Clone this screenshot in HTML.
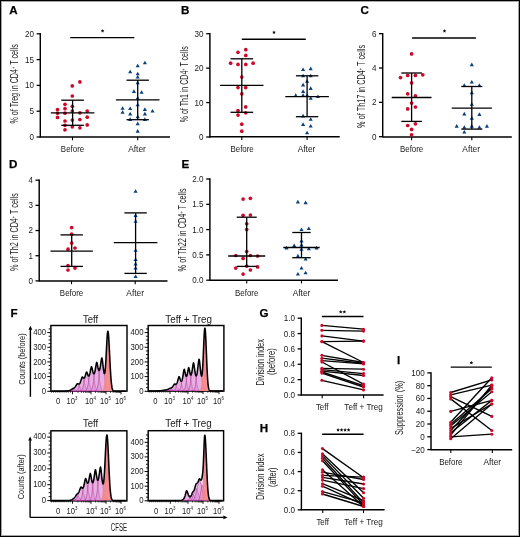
<!DOCTYPE html>
<html><head><meta charset="utf-8"><style>
html,body{margin:0;padding:0;background:#fff;}
#fig{position:relative;width:520px;height:537px;overflow:hidden;background:#fff;}
#fig svg{position:absolute;left:0;top:0;will-change:transform;}
text{font-family:"Liberation Sans", sans-serif;}
</style></head><body><div id="fig">
<svg width="520" height="537" viewBox="0 0 520 537">
<rect x="0.5" y="0.5" width="519" height="536" fill="#fff" stroke="#000" stroke-width="1"/>
<rect x="1.5" y="1.5" width="517" height="534" fill="none" stroke="#000" stroke-opacity="0.35" stroke-width="1"/>
<text font-size="11.6" text-anchor="start" font-weight="bold" fill="#000" transform="translate(9.3 14.05)" stroke="#000" stroke-width="0.25">A</text>
<line x1="40.3" y1="33.1" x2="40.3" y2="137.7" stroke="#000" stroke-width="1.45" stroke-linecap="butt"/>
<line x1="36.6" y1="137" x2="40.3" y2="137" stroke="#000" stroke-width="1.3" stroke-linecap="butt"/>
<text font-size="8.8" text-anchor="end" font-weight="normal" fill="#1a1a1a" transform="translate(34 139.95) scale(0.92 1)">0</text>
<line x1="36.6" y1="111.2" x2="40.3" y2="111.2" stroke="#000" stroke-width="1.3" stroke-linecap="butt"/>
<text font-size="8.8" text-anchor="end" font-weight="normal" fill="#1a1a1a" transform="translate(34 114.15) scale(0.92 1)">5</text>
<line x1="36.6" y1="85.4" x2="40.3" y2="85.4" stroke="#000" stroke-width="1.3" stroke-linecap="butt"/>
<text font-size="8.8" text-anchor="end" font-weight="normal" fill="#1a1a1a" transform="translate(34 88.35) scale(0.92 1)">10</text>
<line x1="36.6" y1="59.6" x2="40.3" y2="59.6" stroke="#000" stroke-width="1.3" stroke-linecap="butt"/>
<text font-size="8.8" text-anchor="end" font-weight="normal" fill="#1a1a1a" transform="translate(34 62.55) scale(0.92 1)">15</text>
<line x1="36.6" y1="33.8" x2="40.3" y2="33.8" stroke="#000" stroke-width="1.3" stroke-linecap="butt"/>
<text font-size="8.8" text-anchor="end" font-weight="normal" fill="#1a1a1a" transform="translate(34 36.75) scale(0.92 1)">20</text>
<line x1="40.3" y1="137" x2="170" y2="137" stroke="#000" stroke-width="1.45" stroke-linecap="butt"/>
<line x1="72.5" y1="137" x2="72.5" y2="140.3" stroke="#000" stroke-width="1.1" stroke-linecap="butt"/>
<text font-size="9" text-anchor="middle" font-weight="normal" fill="#1a1a1a" transform="translate(72.5 151.9) scale(0.88 1)">Before</text>
<line x1="137.7" y1="137" x2="137.7" y2="140.3" stroke="#000" stroke-width="1.1" stroke-linecap="butt"/>
<text font-size="9" text-anchor="middle" font-weight="normal" fill="#1a1a1a" transform="translate(137 151.9) scale(0.93 1)">After</text>
<text font-size="10" text-anchor="middle" font-weight="normal" fill="#1a1a1a" textLength="79.4" lengthAdjust="spacingAndGlyphs" transform="translate(17.9 83.9) rotate(-90)">% of Treg in CD4<tspan font-size="5.5" dy="-3">+</tspan><tspan dy="3"> T cells</tspan></text>
<circle cx="79.9" cy="81.9" r="1.85" fill="#cc0a2a"/>
<circle cx="72.3" cy="85.9" r="1.85" fill="#cc0a2a"/>
<circle cx="72.3" cy="96" r="1.85" fill="#cc0a2a"/>
<circle cx="65" cy="104.3" r="1.85" fill="#cc0a2a"/>
<circle cx="72.3" cy="106.3" r="1.85" fill="#cc0a2a"/>
<circle cx="57.5" cy="109.5" r="1.85" fill="#cc0a2a"/>
<circle cx="65" cy="108.7" r="1.85" fill="#cc0a2a"/>
<circle cx="72.3" cy="111.1" r="1.85" fill="#cc0a2a"/>
<circle cx="79.9" cy="112.8" r="1.85" fill="#cc0a2a"/>
<circle cx="87.2" cy="111.1" r="1.85" fill="#cc0a2a"/>
<circle cx="57.5" cy="113.2" r="1.85" fill="#cc0a2a"/>
<circle cx="65" cy="113.2" r="1.85" fill="#cc0a2a"/>
<circle cx="57.5" cy="117.4" r="1.85" fill="#cc0a2a"/>
<circle cx="87.2" cy="117.2" r="1.85" fill="#cc0a2a"/>
<circle cx="79.9" cy="119.5" r="1.85" fill="#cc0a2a"/>
<circle cx="72.3" cy="120.1" r="1.85" fill="#cc0a2a"/>
<circle cx="65" cy="121" r="1.85" fill="#cc0a2a"/>
<circle cx="87.2" cy="124.9" r="1.85" fill="#cc0a2a"/>
<circle cx="65" cy="125.3" r="1.85" fill="#cc0a2a"/>
<circle cx="72.3" cy="126.8" r="1.85" fill="#cc0a2a"/>
<circle cx="79.9" cy="127.8" r="1.85" fill="#cc0a2a"/>
<circle cx="65" cy="129.8" r="1.85" fill="#cc0a2a"/>
<path d="M144.9 60.73L146.97 64.34L142.83 64.34Z" fill="#0b407f"/>
<path d="M137.7 63.73L139.77 67.34L135.62 67.34Z" fill="#0b407f"/>
<path d="M130.2 69.63L132.27 73.24L128.12 73.24Z" fill="#0b407f"/>
<path d="M137.7 71.63L139.77 75.24L135.62 75.24Z" fill="#0b407f"/>
<path d="M137.7 74.93L139.77 78.54L135.62 78.54Z" fill="#0b407f"/>
<path d="M137.7 80.53L139.77 84.14L135.62 84.14Z" fill="#0b407f"/>
<path d="M133.9 89.33L135.97 92.94L131.83 92.94Z" fill="#0b407f"/>
<path d="M141.6 90.23L143.67 93.84L139.53 93.84Z" fill="#0b407f"/>
<path d="M137.7 95.93L139.77 99.54L135.62 99.54Z" fill="#0b407f"/>
<path d="M137.7 102.73L139.77 106.34L135.62 106.34Z" fill="#0b407f"/>
<path d="M122.6 106.13L124.67 109.74L120.52 109.74Z" fill="#0b407f"/>
<path d="M130.2 106.43L132.27 110.04L128.12 110.04Z" fill="#0b407f"/>
<path d="M122.6 110.13L124.67 113.74L120.52 113.74Z" fill="#0b407f"/>
<path d="M130.2 111.83L132.27 115.44L128.12 115.44Z" fill="#0b407f"/>
<path d="M144.9 107.33L146.97 110.94L142.83 110.94Z" fill="#0b407f"/>
<path d="M152.5 108.93L154.57 112.54L150.43 112.54Z" fill="#0b407f"/>
<path d="M144.9 111.83L146.97 115.44L142.83 115.44Z" fill="#0b407f"/>
<path d="M137.7 114.53L139.77 118.14L135.62 118.14Z" fill="#0b407f"/>
<path d="M130.2 117.33L132.27 120.94L128.12 120.94Z" fill="#0b407f"/>
<path d="M144.9 117.33L146.97 120.94L142.83 120.94Z" fill="#0b407f"/>
<path d="M137.7 121.53L139.77 125.14L135.62 125.14Z" fill="#0b407f"/>
<path d="M137.7 129.03L139.77 132.64L135.62 132.64Z" fill="#0b407f"/>
<line x1="72.6" y1="100.2" x2="72.6" y2="125.3" stroke="#000" stroke-width="1.3" stroke-linecap="butt"/>
<line x1="61.3" y1="100.2" x2="83.9" y2="100.2" stroke="#000" stroke-width="1.3" stroke-linecap="butt"/>
<line x1="61.3" y1="125.3" x2="83.9" y2="125.3" stroke="#000" stroke-width="1.3" stroke-linecap="butt"/>
<line x1="50.8" y1="112.9" x2="94.4" y2="112.9" stroke="#000" stroke-width="1.3" stroke-linecap="butt"/>
<line x1="137.7" y1="80.2" x2="137.7" y2="119.7" stroke="#000" stroke-width="1.3" stroke-linecap="butt"/>
<line x1="126.5" y1="80.2" x2="148.9" y2="80.2" stroke="#000" stroke-width="1.3" stroke-linecap="butt"/>
<line x1="126.5" y1="119.7" x2="148.9" y2="119.7" stroke="#000" stroke-width="1.3" stroke-linecap="butt"/>
<line x1="115.9" y1="99.9" x2="159.5" y2="99.9" stroke="#000" stroke-width="1.3" stroke-linecap="butt"/>
<line x1="70.2" y1="37.6" x2="134.3" y2="37.6" stroke="#000" stroke-width="1.45" stroke-linecap="butt"/>
<path d="M102.6 29L103.16 30.13L104.41 30.31L103.5 31.19L103.72 32.44L102.6 31.85L101.48 32.44L101.7 31.19L100.79 30.31L102.04 30.13Z" fill="#111"/>
<text font-size="11.6" text-anchor="start" font-weight="bold" fill="#000" transform="translate(181 14.05)" stroke="#000" stroke-width="0.25">B</text>
<line x1="209.9" y1="33.01" x2="209.9" y2="137.7" stroke="#000" stroke-width="1.45" stroke-linecap="butt"/>
<line x1="206.2" y1="137" x2="209.9" y2="137" stroke="#000" stroke-width="1.3" stroke-linecap="butt"/>
<text font-size="8.8" text-anchor="end" font-weight="normal" fill="#1a1a1a" transform="translate(203.6 139.95) scale(0.92 1)">0</text>
<line x1="206.2" y1="102.57" x2="209.9" y2="102.57" stroke="#000" stroke-width="1.3" stroke-linecap="butt"/>
<text font-size="8.8" text-anchor="end" font-weight="normal" fill="#1a1a1a" transform="translate(203.6 105.52) scale(0.92 1)">10</text>
<line x1="206.2" y1="68.14" x2="209.9" y2="68.14" stroke="#000" stroke-width="1.3" stroke-linecap="butt"/>
<text font-size="8.8" text-anchor="end" font-weight="normal" fill="#1a1a1a" transform="translate(203.6 71.09) scale(0.92 1)">20</text>
<line x1="206.2" y1="33.71" x2="209.9" y2="33.71" stroke="#000" stroke-width="1.3" stroke-linecap="butt"/>
<text font-size="8.8" text-anchor="end" font-weight="normal" fill="#1a1a1a" transform="translate(203.6 36.66) scale(0.92 1)">30</text>
<line x1="209.9" y1="136.8" x2="339.7" y2="136.8" stroke="#000" stroke-width="1.45" stroke-linecap="butt"/>
<line x1="241.8" y1="136.8" x2="241.8" y2="140.1" stroke="#000" stroke-width="1.1" stroke-linecap="butt"/>
<text font-size="9" text-anchor="middle" font-weight="normal" fill="#1a1a1a" transform="translate(242.1 151.9) scale(0.88 1)">Before</text>
<line x1="307.1" y1="136.8" x2="307.1" y2="140.1" stroke="#000" stroke-width="1.1" stroke-linecap="butt"/>
<text font-size="9" text-anchor="middle" font-weight="normal" fill="#1a1a1a" transform="translate(306.5 151.9) scale(0.93 1)">After</text>
<text font-size="10" text-anchor="middle" font-weight="normal" fill="#1a1a1a" textLength="76" lengthAdjust="spacingAndGlyphs" transform="translate(188 84.3) rotate(-90)">% of Th1 in CD4<tspan font-size="5.5" dy="-3">+</tspan><tspan dy="3"> T cells</tspan></text>
<circle cx="245.8" cy="49.7" r="1.85" fill="#cc0a2a"/>
<circle cx="238" cy="52.3" r="1.85" fill="#cc0a2a"/>
<circle cx="245.8" cy="55.4" r="1.85" fill="#cc0a2a"/>
<circle cx="230.6" cy="63.2" r="1.85" fill="#cc0a2a"/>
<circle cx="238" cy="64.4" r="1.85" fill="#cc0a2a"/>
<circle cx="245.8" cy="64.4" r="1.85" fill="#cc0a2a"/>
<circle cx="253.1" cy="63.2" r="1.85" fill="#cc0a2a"/>
<circle cx="241.8" cy="77.1" r="1.85" fill="#cc0a2a"/>
<circle cx="238" cy="87.6" r="1.85" fill="#cc0a2a"/>
<circle cx="245.7" cy="87.6" r="1.85" fill="#cc0a2a"/>
<circle cx="241.8" cy="93.8" r="1.85" fill="#cc0a2a"/>
<circle cx="245.7" cy="106.9" r="1.85" fill="#cc0a2a"/>
<circle cx="238" cy="110.5" r="1.85" fill="#cc0a2a"/>
<circle cx="245.7" cy="112.8" r="1.85" fill="#cc0a2a"/>
<circle cx="238" cy="115.1" r="1.85" fill="#cc0a2a"/>
<circle cx="241.8" cy="124.2" r="1.85" fill="#cc0a2a"/>
<circle cx="241.8" cy="131.2" r="1.85" fill="#cc0a2a"/>
<path d="M303.1 67.43L305.18 71.04L301.03 71.04Z" fill="#0b407f"/>
<path d="M310.7 66.53L312.77 70.14L308.62 70.14Z" fill="#0b407f"/>
<path d="M303.1 73.63L305.18 77.24L301.03 77.24Z" fill="#0b407f"/>
<path d="M310.7 73.63L312.77 77.24L308.62 77.24Z" fill="#0b407f"/>
<path d="M307.1 79.23L309.18 82.84L305.03 82.84Z" fill="#0b407f"/>
<path d="M303.1 82.83L305.18 86.44L301.03 86.44Z" fill="#0b407f"/>
<path d="M303.1 89.33L305.18 92.94L301.03 92.94Z" fill="#0b407f"/>
<path d="M310.7 86.33L312.77 89.94L308.62 89.94Z" fill="#0b407f"/>
<path d="M295.7 93.33L297.77 96.94L293.62 96.94Z" fill="#0b407f"/>
<path d="M303.1 93.13L305.18 96.74L301.03 96.74Z" fill="#0b407f"/>
<path d="M307.1 93.13L309.18 96.74L305.03 96.74Z" fill="#0b407f"/>
<path d="M310.7 96.03L312.77 99.64L308.62 99.64Z" fill="#0b407f"/>
<path d="M318 94.43L320.07 98.04L315.93 98.04Z" fill="#0b407f"/>
<path d="M303.1 113.83L305.18 117.44L301.03 117.44Z" fill="#0b407f"/>
<path d="M310.7 117.23L312.77 120.84L308.62 120.84Z" fill="#0b407f"/>
<path d="M303.1 122.33L305.18 125.94L301.03 125.94Z" fill="#0b407f"/>
<path d="M310.7 123.93L312.77 127.54L308.62 127.54Z" fill="#0b407f"/>
<path d="M307.1 130.63L309.18 134.24L305.03 134.24Z" fill="#0b407f"/>
<line x1="241.8" y1="58.8" x2="241.8" y2="112.3" stroke="#000" stroke-width="1.3" stroke-linecap="butt"/>
<line x1="230.5" y1="58.8" x2="253.1" y2="58.8" stroke="#000" stroke-width="1.3" stroke-linecap="butt"/>
<line x1="230.5" y1="112.3" x2="253.1" y2="112.3" stroke="#000" stroke-width="1.3" stroke-linecap="butt"/>
<line x1="220.1" y1="85.4" x2="263.5" y2="85.4" stroke="#000" stroke-width="1.3" stroke-linecap="butt"/>
<line x1="307.1" y1="75.8" x2="307.1" y2="116.7" stroke="#000" stroke-width="1.3" stroke-linecap="butt"/>
<line x1="295.9" y1="75.8" x2="318.3" y2="75.8" stroke="#000" stroke-width="1.3" stroke-linecap="butt"/>
<line x1="295.9" y1="116.7" x2="318.3" y2="116.7" stroke="#000" stroke-width="1.3" stroke-linecap="butt"/>
<line x1="285.3" y1="96.6" x2="328.9" y2="96.6" stroke="#000" stroke-width="1.3" stroke-linecap="butt"/>
<line x1="241.8" y1="39.3" x2="305.8" y2="39.3" stroke="#000" stroke-width="1.45" stroke-linecap="butt"/>
<path d="M274 30.5L274.56 31.63L275.81 31.81L274.9 32.69L275.12 33.94L274 33.35L272.88 33.94L273.1 32.69L272.19 31.81L273.44 31.63Z" fill="#111"/>
<text font-size="11.6" text-anchor="start" font-weight="bold" fill="#000" transform="translate(360.5 14.05)" stroke="#000" stroke-width="0.25">C</text>
<line x1="382.7" y1="32.98" x2="382.7" y2="137.4" stroke="#000" stroke-width="1.45" stroke-linecap="butt"/>
<line x1="379" y1="136.7" x2="382.7" y2="136.7" stroke="#000" stroke-width="1.3" stroke-linecap="butt"/>
<text font-size="8.8" text-anchor="end" font-weight="normal" fill="#1a1a1a" transform="translate(376.4 139.65) scale(0.92 1)">0</text>
<line x1="379" y1="102.36" x2="382.7" y2="102.36" stroke="#000" stroke-width="1.3" stroke-linecap="butt"/>
<text font-size="8.8" text-anchor="end" font-weight="normal" fill="#1a1a1a" transform="translate(376.4 105.31) scale(0.92 1)">2</text>
<line x1="379" y1="68.02" x2="382.7" y2="68.02" stroke="#000" stroke-width="1.3" stroke-linecap="butt"/>
<text font-size="8.8" text-anchor="end" font-weight="normal" fill="#1a1a1a" transform="translate(376.4 70.97) scale(0.92 1)">4</text>
<line x1="379" y1="33.68" x2="382.7" y2="33.68" stroke="#000" stroke-width="1.3" stroke-linecap="butt"/>
<text font-size="8.8" text-anchor="end" font-weight="normal" fill="#1a1a1a" transform="translate(376.4 36.63) scale(0.92 1)">6</text>
<line x1="382.7" y1="137" x2="511.8" y2="137" stroke="#000" stroke-width="1.45" stroke-linecap="butt"/>
<line x1="411.6" y1="137" x2="411.6" y2="140.3" stroke="#000" stroke-width="1.1" stroke-linecap="butt"/>
<text font-size="9" text-anchor="middle" font-weight="normal" fill="#1a1a1a" transform="translate(411.6 151.9) scale(0.88 1)">Before</text>
<line x1="471.8" y1="137" x2="471.8" y2="140.3" stroke="#000" stroke-width="1.1" stroke-linecap="butt"/>
<text font-size="9" text-anchor="middle" font-weight="normal" fill="#1a1a1a" transform="translate(471.2 151.9) scale(0.93 1)">After</text>
<text font-size="10" text-anchor="middle" font-weight="normal" fill="#1a1a1a" textLength="83" lengthAdjust="spacingAndGlyphs" transform="translate(365.4 86.4) rotate(-90)">% of Th17 in CD4<tspan font-size="5.5" dy="-3">+</tspan><tspan dy="3"> T cells</tspan></text>
<circle cx="411.6" cy="53.9" r="1.85" fill="#cc0a2a"/>
<circle cx="400.5" cy="77.6" r="1.85" fill="#cc0a2a"/>
<circle cx="407.7" cy="75.4" r="1.85" fill="#cc0a2a"/>
<circle cx="415.4" cy="75.4" r="1.85" fill="#cc0a2a"/>
<circle cx="422.8" cy="74.8" r="1.85" fill="#cc0a2a"/>
<circle cx="411.6" cy="82.8" r="1.85" fill="#cc0a2a"/>
<circle cx="407.7" cy="93.8" r="1.85" fill="#cc0a2a"/>
<circle cx="415.4" cy="95.9" r="1.85" fill="#cc0a2a"/>
<circle cx="411.6" cy="103.1" r="1.85" fill="#cc0a2a"/>
<circle cx="407.7" cy="108.9" r="1.85" fill="#cc0a2a"/>
<circle cx="415.4" cy="107" r="1.85" fill="#cc0a2a"/>
<circle cx="407.7" cy="125.5" r="1.85" fill="#cc0a2a"/>
<circle cx="415.4" cy="123.8" r="1.85" fill="#cc0a2a"/>
<circle cx="411.6" cy="129.4" r="1.85" fill="#cc0a2a"/>
<circle cx="411.6" cy="134.8" r="1.85" fill="#cc0a2a"/>
<path d="M471.8 62.53L473.88 66.14L469.73 66.14Z" fill="#0b407f"/>
<path d="M471.8 79.93L473.88 83.54L469.73 83.54Z" fill="#0b407f"/>
<path d="M464.3 83.33L466.38 86.94L462.23 86.94Z" fill="#0b407f"/>
<path d="M479.4 83.33L481.47 86.94L477.32 86.94Z" fill="#0b407f"/>
<path d="M471.8 90.53L473.88 94.14L469.73 94.14Z" fill="#0b407f"/>
<path d="M471.8 102.23L473.88 105.84L469.73 105.84Z" fill="#0b407f"/>
<path d="M464.3 111.83L466.38 115.44L462.23 115.44Z" fill="#0b407f"/>
<path d="M479.4 112.33L481.47 115.94L477.32 115.94Z" fill="#0b407f"/>
<path d="M471.8 116.03L473.88 119.64L469.73 119.64Z" fill="#0b407f"/>
<path d="M456.7 124.03L458.77 127.64L454.62 127.64Z" fill="#0b407f"/>
<path d="M464.3 125.23L466.38 128.84L462.23 128.84Z" fill="#0b407f"/>
<path d="M471.8 124.03L473.88 127.64L469.73 127.64Z" fill="#0b407f"/>
<path d="M479.4 125.23L481.47 128.84L477.32 128.84Z" fill="#0b407f"/>
<path d="M486.9 124.03L488.97 127.64L484.82 127.64Z" fill="#0b407f"/>
<path d="M464.3 129.93L466.38 133.54L462.23 133.54Z" fill="#0b407f"/>
<line x1="411.6" y1="73" x2="411.6" y2="121.4" stroke="#000" stroke-width="1.3" stroke-linecap="butt"/>
<line x1="401.3" y1="73" x2="421.9" y2="73" stroke="#000" stroke-width="1.3" stroke-linecap="butt"/>
<line x1="401.3" y1="121.4" x2="421.9" y2="121.4" stroke="#000" stroke-width="1.3" stroke-linecap="butt"/>
<line x1="391.7" y1="97.5" x2="431.5" y2="97.5" stroke="#000" stroke-width="1.3" stroke-linecap="butt"/>
<line x1="471.8" y1="86.5" x2="471.8" y2="129.1" stroke="#000" stroke-width="1.3" stroke-linecap="butt"/>
<line x1="461.3" y1="86.5" x2="482.3" y2="86.5" stroke="#000" stroke-width="1.3" stroke-linecap="butt"/>
<line x1="461.3" y1="129.1" x2="482.3" y2="129.1" stroke="#000" stroke-width="1.3" stroke-linecap="butt"/>
<line x1="451.7" y1="108.1" x2="491.9" y2="108.1" stroke="#000" stroke-width="1.3" stroke-linecap="butt"/>
<line x1="412.1" y1="37.9" x2="475.9" y2="37.9" stroke="#000" stroke-width="1.45" stroke-linecap="butt"/>
<path d="M444.5 29.1L445.06 30.23L446.31 30.41L445.4 31.29L445.62 32.54L444.5 31.95L443.38 32.54L443.6 31.29L442.69 30.41L443.94 30.23Z" fill="#111"/>
<text font-size="11.6" text-anchor="start" font-weight="bold" fill="#000" transform="translate(9.1 167.95)" stroke="#000" stroke-width="0.25">D</text>
<line x1="39.2" y1="179.48" x2="39.2" y2="281.6" stroke="#000" stroke-width="1.45" stroke-linecap="butt"/>
<line x1="35.5" y1="280.9" x2="39.2" y2="280.9" stroke="#000" stroke-width="1.3" stroke-linecap="butt"/>
<text font-size="8.8" text-anchor="end" font-weight="normal" fill="#1a1a1a" transform="translate(32.9 283.85) scale(0.92 1)">0</text>
<line x1="35.5" y1="255.72" x2="39.2" y2="255.72" stroke="#000" stroke-width="1.3" stroke-linecap="butt"/>
<text font-size="8.8" text-anchor="end" font-weight="normal" fill="#1a1a1a" transform="translate(32.9 258.67) scale(0.92 1)">1</text>
<line x1="35.5" y1="230.54" x2="39.2" y2="230.54" stroke="#000" stroke-width="1.3" stroke-linecap="butt"/>
<text font-size="8.8" text-anchor="end" font-weight="normal" fill="#1a1a1a" transform="translate(32.9 233.49) scale(0.92 1)">2</text>
<line x1="35.5" y1="205.36" x2="39.2" y2="205.36" stroke="#000" stroke-width="1.3" stroke-linecap="butt"/>
<text font-size="8.8" text-anchor="end" font-weight="normal" fill="#1a1a1a" transform="translate(32.9 208.31) scale(0.92 1)">3</text>
<line x1="35.5" y1="180.18" x2="39.2" y2="180.18" stroke="#000" stroke-width="1.3" stroke-linecap="butt"/>
<text font-size="8.8" text-anchor="end" font-weight="normal" fill="#1a1a1a" transform="translate(32.9 183.13) scale(0.92 1)">4</text>
<line x1="39.2" y1="280.9" x2="167.5" y2="280.9" stroke="#000" stroke-width="1.45" stroke-linecap="butt"/>
<line x1="71.5" y1="280.9" x2="71.5" y2="284.2" stroke="#000" stroke-width="1.1" stroke-linecap="butt"/>
<text font-size="9" text-anchor="middle" font-weight="normal" fill="#1a1a1a" transform="translate(71.5 295.8) scale(0.88 1)">Before</text>
<line x1="135.2" y1="280.9" x2="135.2" y2="284.2" stroke="#000" stroke-width="1.1" stroke-linecap="butt"/>
<text font-size="9" text-anchor="middle" font-weight="normal" fill="#1a1a1a" transform="translate(135.2 295.8) scale(0.93 1)">After</text>
<text font-size="10" text-anchor="middle" font-weight="normal" fill="#1a1a1a" textLength="77.8" lengthAdjust="spacingAndGlyphs" transform="translate(18 232.1) rotate(-90)">% of Th2 in CD4<tspan font-size="5.5" dy="-3">+</tspan><tspan dy="3"> T cells</tspan></text>
<circle cx="71.7" cy="227.6" r="1.85" fill="#cc0a2a"/>
<circle cx="71.7" cy="234.2" r="1.85" fill="#cc0a2a"/>
<circle cx="71.7" cy="243.1" r="1.85" fill="#cc0a2a"/>
<circle cx="68" cy="249.2" r="1.85" fill="#cc0a2a"/>
<circle cx="75" cy="248" r="1.85" fill="#cc0a2a"/>
<circle cx="68" cy="265.7" r="1.85" fill="#cc0a2a"/>
<circle cx="68" cy="270" r="1.85" fill="#cc0a2a"/>
<circle cx="75" cy="268.1" r="1.85" fill="#cc0a2a"/>
<path d="M135.6 189.13L137.67 192.74L133.53 192.74Z" fill="#0b407f"/>
<path d="M135.6 213.33L137.67 216.94L133.53 216.94Z" fill="#0b407f"/>
<path d="M135.6 219.13L137.67 222.74L133.53 222.74Z" fill="#0b407f"/>
<path d="M135.6 248.23L137.67 251.84L133.53 251.84Z" fill="#0b407f"/>
<path d="M135.6 257.43L137.67 261.04L133.53 261.04Z" fill="#0b407f"/>
<path d="M135.6 261.83L137.67 265.44L133.53 265.44Z" fill="#0b407f"/>
<path d="M135.6 265.93L137.67 269.54L133.53 269.54Z" fill="#0b407f"/>
<path d="M135.6 274.43L137.67 278.04L133.53 278.04Z" fill="#0b407f"/>
<line x1="71.7" y1="234.9" x2="71.7" y2="266.4" stroke="#000" stroke-width="1.3" stroke-linecap="butt"/>
<line x1="60.5" y1="234.9" x2="82.9" y2="234.9" stroke="#000" stroke-width="1.3" stroke-linecap="butt"/>
<line x1="60.5" y1="266.4" x2="82.9" y2="266.4" stroke="#000" stroke-width="1.3" stroke-linecap="butt"/>
<line x1="50.5" y1="251.1" x2="92.9" y2="251.1" stroke="#000" stroke-width="1.3" stroke-linecap="butt"/>
<line x1="135.6" y1="212.9" x2="135.6" y2="273.4" stroke="#000" stroke-width="1.3" stroke-linecap="butt"/>
<line x1="124.4" y1="212.9" x2="146.8" y2="212.9" stroke="#000" stroke-width="1.3" stroke-linecap="butt"/>
<line x1="124.4" y1="273.4" x2="146.8" y2="273.4" stroke="#000" stroke-width="1.3" stroke-linecap="butt"/>
<line x1="113.8" y1="242.7" x2="157.4" y2="242.7" stroke="#000" stroke-width="1.3" stroke-linecap="butt"/>
<text font-size="11.6" text-anchor="start" font-weight="bold" fill="#000" transform="translate(181.4 167.95)" stroke="#000" stroke-width="0.25">E</text>
<line x1="209.9" y1="178.3" x2="209.9" y2="280.9" stroke="#000" stroke-width="1.45" stroke-linecap="butt"/>
<line x1="206.2" y1="280.2" x2="209.9" y2="280.2" stroke="#000" stroke-width="1.3" stroke-linecap="butt"/>
<text font-size="8.8" text-anchor="end" font-weight="normal" fill="#1a1a1a" transform="translate(203.6 283.15) scale(0.92 1)">0.0</text>
<line x1="206.2" y1="254.9" x2="209.9" y2="254.9" stroke="#000" stroke-width="1.3" stroke-linecap="butt"/>
<text font-size="8.8" text-anchor="end" font-weight="normal" fill="#1a1a1a" transform="translate(203.6 257.85) scale(0.92 1)">0.5</text>
<line x1="206.2" y1="229.6" x2="209.9" y2="229.6" stroke="#000" stroke-width="1.3" stroke-linecap="butt"/>
<text font-size="8.8" text-anchor="end" font-weight="normal" fill="#1a1a1a" transform="translate(203.6 232.55) scale(0.92 1)">1.0</text>
<line x1="206.2" y1="204.3" x2="209.9" y2="204.3" stroke="#000" stroke-width="1.3" stroke-linecap="butt"/>
<text font-size="8.8" text-anchor="end" font-weight="normal" fill="#1a1a1a" transform="translate(203.6 207.25) scale(0.92 1)">1.5</text>
<line x1="206.2" y1="179" x2="209.9" y2="179" stroke="#000" stroke-width="1.3" stroke-linecap="butt"/>
<text font-size="8.8" text-anchor="end" font-weight="normal" fill="#1a1a1a" transform="translate(203.6 181.95) scale(0.92 1)">2.0</text>
<line x1="209.9" y1="280.2" x2="337.9" y2="280.2" stroke="#000" stroke-width="1.45" stroke-linecap="butt"/>
<line x1="246.7" y1="280.2" x2="246.7" y2="283.5" stroke="#000" stroke-width="1.1" stroke-linecap="butt"/>
<text font-size="9" text-anchor="middle" font-weight="normal" fill="#1a1a1a" transform="translate(246.7 295.8) scale(0.88 1)">Before</text>
<line x1="301.5" y1="280.2" x2="301.5" y2="283.5" stroke="#000" stroke-width="1.1" stroke-linecap="butt"/>
<text font-size="9" text-anchor="middle" font-weight="normal" fill="#1a1a1a" transform="translate(301.5 295.8) scale(0.93 1)">After</text>
<text font-size="10" text-anchor="middle" font-weight="normal" fill="#1a1a1a" textLength="83" lengthAdjust="spacingAndGlyphs" transform="translate(186.3 229.9) rotate(-90)">% of Th22 in CD4<tspan font-size="5.5" dy="-3">+</tspan><tspan dy="3"> T cells</tspan></text>
<circle cx="243.1" cy="199.1" r="1.85" fill="#cc0a2a"/>
<circle cx="250.4" cy="198.3" r="1.85" fill="#cc0a2a"/>
<circle cx="243.1" cy="215.3" r="1.85" fill="#cc0a2a"/>
<circle cx="250.4" cy="215" r="1.85" fill="#cc0a2a"/>
<circle cx="246.7" cy="223.8" r="1.85" fill="#cc0a2a"/>
<circle cx="246.7" cy="229.6" r="1.85" fill="#cc0a2a"/>
<circle cx="246.7" cy="251.6" r="1.85" fill="#cc0a2a"/>
<circle cx="235.8" cy="255.5" r="1.85" fill="#cc0a2a"/>
<circle cx="243.1" cy="258.4" r="1.85" fill="#cc0a2a"/>
<circle cx="250.4" cy="255.5" r="1.85" fill="#cc0a2a"/>
<circle cx="257.6" cy="256" r="1.85" fill="#cc0a2a"/>
<circle cx="235.8" cy="268.1" r="1.85" fill="#cc0a2a"/>
<circle cx="246.7" cy="266.1" r="1.85" fill="#cc0a2a"/>
<circle cx="257.6" cy="266.9" r="1.85" fill="#cc0a2a"/>
<circle cx="250.4" cy="270" r="1.85" fill="#cc0a2a"/>
<circle cx="243.1" cy="274.1" r="1.85" fill="#cc0a2a"/>
<path d="M297.9 199.83L299.97 203.44L295.82 203.44Z" fill="#0b407f"/>
<path d="M305.6 200.53L307.68 204.14L303.53 204.14Z" fill="#0b407f"/>
<path d="M301.5 227.43L303.57 231.04L299.43 231.04Z" fill="#0b407f"/>
<path d="M308.8 226.43L310.88 230.04L306.73 230.04Z" fill="#0b407f"/>
<path d="M301.5 238.83L303.57 242.44L299.43 242.44Z" fill="#0b407f"/>
<path d="M294.2 243.43L296.27 247.04L292.12 247.04Z" fill="#0b407f"/>
<path d="M301.5 242.93L303.57 246.54L299.43 246.54Z" fill="#0b407f"/>
<path d="M286.5 245.83L288.57 249.44L284.43 249.44Z" fill="#0b407f"/>
<path d="M301.5 247.23L303.57 250.84L299.43 250.84Z" fill="#0b407f"/>
<path d="M308.8 246.53L310.88 250.14L306.73 250.14Z" fill="#0b407f"/>
<path d="M316.5 245.83L318.57 249.44L314.43 249.44Z" fill="#0b407f"/>
<path d="M297.9 253.83L299.97 257.44L295.82 257.44Z" fill="#0b407f"/>
<path d="M305.6 256.93L307.68 260.54L303.53 260.54Z" fill="#0b407f"/>
<path d="M301.5 265.93L303.57 269.54L299.43 269.54Z" fill="#0b407f"/>
<path d="M297.9 271.93L299.97 275.54L295.82 275.54Z" fill="#0b407f"/>
<path d="M305.6 270.73L307.68 274.34L303.53 274.34Z" fill="#0b407f"/>
<line x1="246.7" y1="217.2" x2="246.7" y2="266.4" stroke="#000" stroke-width="1.3" stroke-linecap="butt"/>
<line x1="236.7" y1="217.2" x2="256.7" y2="217.2" stroke="#000" stroke-width="1.3" stroke-linecap="butt"/>
<line x1="236.7" y1="266.4" x2="256.7" y2="266.4" stroke="#000" stroke-width="1.3" stroke-linecap="butt"/>
<line x1="228.2" y1="256" x2="265.2" y2="256" stroke="#000" stroke-width="1.3" stroke-linecap="butt"/>
<line x1="301.5" y1="232.5" x2="301.5" y2="257.7" stroke="#000" stroke-width="1.3" stroke-linecap="butt"/>
<line x1="292.3" y1="232.5" x2="310.7" y2="232.5" stroke="#000" stroke-width="1.3" stroke-linecap="butt"/>
<line x1="292.3" y1="257.7" x2="310.7" y2="257.7" stroke="#000" stroke-width="1.3" stroke-linecap="butt"/>
<line x1="283.3" y1="247.5" x2="319.7" y2="247.5" stroke="#000" stroke-width="1.3" stroke-linecap="butt"/>
<text font-size="11.6" text-anchor="start" font-weight="bold" fill="#000" transform="translate(10.5 316.95)" stroke="#000" stroke-width="0.25">F</text>
<defs>
<clipPath id="c1"><path d="M51.5 391.3L51.5 391.3L51.75 391.3L52 391.3L52.25 391.3L52.5 391.3L52.75 391.3L53 391.3L53.25 391.3L53.5 391.3L53.75 391.3L54 391.3L54.25 391.3L54.5 391.3L54.75 391.3L55 391.3L55.25 391.3L55.5 391.3L55.75 391.3L56 391.3L56.25 391.3L56.5 391.3L56.75 391.3L57 391.3L57.25 391.3L57.5 391.3L57.75 391.3L58 391.3L58.25 391.3L58.5 391.3L58.75 391.3L59 391.3L59.25 391.29L59.5 391.29L59.75 391.29L60 391.29L60.25 391.29L60.5 391.29L60.75 391.29L61 391.28L61.25 391.28L61.5 391.28L61.75 391.27L62 391.27L62.25 391.26L62.5 391.26L62.75 391.25L63 391.24L63.25 391.23L63.5 391.22L63.75 391.21L64 391.2L64.25 391.19L64.5 391.17L64.75 391.16L65 391.14L65.25 391.12L65.5 391.1L65.75 391.08L66 391.06L66.25 391.03L66.5 391L66.75 390.97L67 390.94L67.25 390.9L67.5 390.86L67.75 390.82L68 390.78L68.25 390.74L68.5 390.7L68.75 390.65L69 390.59L69.25 390.52L69.5 390.45L69.75 390.36L70 390.26L70.25 390.15L70.5 390.03L70.75 389.9L71 389.75L71.25 389.59L71.5 389.42L71.75 389.25L72 389.07L72.25 388.89L72.5 388.7L72.75 388.54L73 388.42L73.25 388.32L73.5 388.22L73.75 388.11L74 387.97L74.25 387.8L74.5 387.6L74.75 387.36L75 387.08L75.25 386.77L75.5 386.42L75.75 386.04L76 385.63L76.25 385.22L76.5 384.8L76.75 384.41L77 384.05L77.25 383.77L77.5 383.72L77.75 383.78L78 383.88L78.25 383.98L78.5 384.05L78.75 384.08L79 384.03L79.25 383.91L79.5 383.68L79.75 383.36L80 382.94L80.25 382.41L80.5 381.8L80.75 381.11L81 380.35L81.25 379.57L81.5 378.78L81.75 378.04L82 377.4L82.25 377.03L82.5 377.1L82.75 377.32L83 377.59L83.25 377.84L83.5 378.04L83.75 378.14L84 378.12L84.25 377.95L84.5 377.64L84.75 377.17L85 376.56L85.25 375.82L85.5 375.01L85.75 374.15L86 373.3L86.25 372.55L86.5 372L86.75 372.03L87 372.54L87.25 373.21L87.5 373.93L87.75 374.62L88 375.22L88.25 375.67L88.5 375.94L88.75 376L89 375.83L89.25 375.43L89.5 374.79L89.75 373.95L90 372.93L90.25 371.76L90.5 370.52L90.75 369.27L91 368.1L91.25 367.14L91.5 366.59L91.75 367.04L92 367.9L92.25 368.95L92.5 370.06L92.75 371.15L93 372.12L93.25 372.92L93.5 373.5L93.75 373.81L94 373.84L94.25 373.58L94.5 373.03L94.75 372.19L95 371.11L95.25 369.82L95.5 368.38L95.75 366.85L96 365.34L96.25 363.96L96.5 362.85L96.75 362.38L97 363L97.25 364.04L97.5 365.26L97.75 366.54L98 367.76L98.25 368.83L98.5 369.69L98.75 370.27L99 370.55L99.25 370.48L99.5 370.07L99.75 369.33L100 368.27L100.25 366.94L100.5 365.39L100.75 363.71L101 361.99L101.25 360.36L101.5 358.95L101.75 358L102 358.08L102.25 359.41L102.5 361.24L102.75 363.34L103 365.55L103.25 367.72L103.5 369.71L103.75 371.42L104 372.71L104.25 373.47L104.5 373.6L104.75 373L105 371.61L105.25 369.39L105.5 366.36L105.75 362.57L106 358.15L106.25 353.31L106.5 348.3L106.75 343.42L107 338.98L107.25 335.32L107.5 332.7L107.75 331.34L108 331.35L108.25 332.56L108.5 334.88L108.75 338.18L109 342.29L109.25 346.98L109.5 352.03L109.75 357.2L110 362.28L110.25 367.11L110.5 371.54L110.75 375.48L111 378.89L111.25 381.77L111.5 384.12L111.75 386L112 387.47L112.25 388.59L112.5 389.42L112.75 390.02L113 390.45L113.25 390.74L113.5 390.94L113.75 391.08L114 391.16L114.25 391.22L114.5 391.25L114.75 391.27L115 391.28L115.25 391.29L115.5 391.3L115.75 391.3L116 391.3L116.25 391.3L116.5 391.3L116.75 391.3L117 391.3L117.25 391.3L117.5 391.3L117.75 391.3L118 391.3L118.25 391.3L118.5 391.3L118.75 391.3L119 391.3L119.25 391.3L119.5 391.3L119.75 391.3L120 391.3L120.25 391.3L120.5 391.3L120.75 391.3L121 391.3L121.25 391.3L121.5 391.3L121.75 391.3L122 391.3L122.25 391.3L122.5 391.3L122.75 391.3L123 391.3L123.25 391.3L123.5 391.3L123.75 391.3L124 391.3L124.25 391.3L124.5 391.3L124.75 391.3L125 391.3L125.25 391.3L125.5 391.3L125.75 391.3L125.9 391.3Z"/></clipPath><clipPath id="c2"><path d="M148 391L148 391L148.25 391L148.5 391L148.75 391L149 391L149.25 391L149.5 391L149.75 391L150 391L150.25 391L150.5 391L150.75 391L151 391L151.25 391L151.5 391L151.75 391L152 391L152.25 391L152.5 391L152.75 391L153 390.99L153.25 390.99L153.5 390.99L153.75 390.99L154 390.99L154.25 390.99L154.5 390.99L154.75 390.98L155 390.98L155.25 390.98L155.5 390.98L155.75 390.97L156 390.97L156.25 390.96L156.5 390.96L156.75 390.95L157 390.94L157.25 390.94L157.5 390.93L157.75 390.92L158 390.91L158.25 390.89L158.5 390.88L158.75 390.87L159 390.85L159.25 390.83L159.5 390.81L159.75 390.79L160 390.77L160.25 390.75L160.5 390.72L160.75 390.69L161 390.66L161.25 390.63L161.5 390.6L161.75 390.56L162 390.53L162.25 390.49L162.5 390.45L162.75 390.41L163 390.37L163.25 390.32L163.5 390.28L163.75 390.24L164 390.19L164.25 390.15L164.5 390.1L164.75 390.06L165 390.01L165.25 389.98L165.5 389.96L165.75 389.92L166 389.89L166.25 389.85L166.5 389.8L166.75 389.74L167 389.68L167.25 389.6L167.5 389.51L167.75 389.42L168 389.31L168.25 389.19L168.5 389.06L168.75 388.92L169 388.78L169.25 388.63L169.5 388.48L169.75 388.34L170 388.22L170.25 388.15L170.5 388.1L170.75 388.04L171 387.96L171.25 387.86L171.5 387.73L171.75 387.57L172 387.36L172.25 387.12L172.5 386.83L172.75 386.51L173 386.15L173.25 385.77L173.5 385.38L173.75 384.98L174 384.61L174.25 384.27L174.5 384.03L174.75 384.02L175 384.09L175.25 384.17L175.5 384.23L175.75 384.25L176 384.18L176.25 384.02L176.5 383.74L176.75 383.35L177 382.83L177.25 382.19L177.5 381.44L177.75 380.6L178 379.71L178.25 378.8L178.5 377.94L178.75 377.19L179 376.67L179.25 376.73L179.5 377.27L179.75 377.98L180 378.77L180.25 379.55L180.5 380.24L180.75 380.8L181 381.17L181.25 381.33L181.5 381.25L181.75 380.9L182 380.29L182.25 379.42L182.5 378.3L182.75 376.98L183 375.5L183.25 373.93L183.5 372.37L183.75 370.92L184 369.75L184.25 369.24L184.5 369.83L184.75 370.83L185 372.01L185.25 373.21L185.5 374.32L185.75 375.24L186 375.9L186.25 376.25L186.5 376.27L186.75 375.95L187 375.31L187.25 374.37L187.5 373.19L187.75 371.85L188 370.45L188.25 369.12L188.5 368.04L188.75 367.6L189 368.29L189.25 369.38L189.5 370.64L189.75 371.9L190 373.05L190.25 374L190.5 374.67L190.75 375.01L191 374.99L191.25 374.61L191.5 373.87L191.75 372.8L192 371.44L192.25 369.86L192.5 368.16L192.75 366.44L193 364.84L193.25 363.54L193.5 362.86L193.75 363.6L194 364.96L194.25 366.63L194.5 368.43L194.75 370.22L195 371.88L195.25 373.34L195.5 374.51L195.75 375.35L196 375.81L196.25 375.88L196.5 375.54L196.75 374.79L197 373.66L197.25 372.17L197.5 370.39L197.75 368.38L198 366.23L198.25 364.07L198.5 362.03L198.75 360.31L199 359.19L199.25 359.48L199.5 361L199.75 363.04L200 365.36L200.25 367.78L200.5 370.13L200.75 372.27L201 374.05L201.25 375.35L201.5 376.03L201.75 375.95L202 374.99L202.25 373.07L202.5 370.13L202.75 366.19L203 361.34L203.25 355.79L203.5 349.84L203.75 343.86L204 338.3L204.25 333.6L204.5 330.17L204.75 328.34L205 328.27L205.25 329.91L205.5 333.11L205.75 337.63L206 343.13L206.25 349.24L206.5 355.56L206.75 361.75L207 367.52L207.25 372.66L207.5 377.07L207.75 380.71L208 383.61L208.25 385.83L208.5 387.49L208.75 388.68L209 389.51L209.25 390.07L209.5 390.43L209.75 390.66L210 390.81L210.25 390.89L210.5 390.94L210.75 390.97L211 390.98L211.25 390.99L211.5 391L211.75 391L212 391L212.25 391L212.5 391L212.75 391L213 391L213.25 391L213.5 391L213.75 391L214 391L214.25 391L214.5 391L214.75 391L215 391L215.25 391L215.5 391L215.75 391L216 391L216.25 391L216.5 391L216.75 391L217 391L217.25 391L217.5 391L217.75 391L218 391L218.25 391L218.5 391L218.75 391L219 391L219.25 391L219.5 391L219.75 391L220 391L220.25 391L220.5 391L220.75 391L221 391L221.25 391L221.5 391L221.75 391L222 391L222.25 391L222.5 391L222.75 391L223 391L223.2 391Z"/></clipPath><clipPath id="c3"><path d="M51.5 500.6L51.5 500.6L51.75 500.6L52 500.6L52.25 500.6L52.5 500.6L52.75 500.6L53 500.6L53.25 500.6L53.5 500.6L53.75 500.6L54 500.6L54.25 500.6L54.5 500.6L54.75 500.6L55 500.6L55.25 500.6L55.5 500.6L55.75 500.6L56 500.6L56.25 500.6L56.5 500.6L56.75 500.6L57 500.6L57.25 500.6L57.5 500.6L57.75 500.6L58 500.6L58.25 500.6L58.5 500.6L58.75 500.6L59 500.6L59.25 500.6L59.5 500.6L59.75 500.6L60 500.6L60.25 500.6L60.5 500.6L60.75 500.6L61 500.6L61.25 500.6L61.5 500.6L61.75 500.6L62 500.6L62.25 500.6L62.5 500.6L62.75 500.6L63 500.6L63.25 500.6L63.5 500.6L63.75 500.6L64 500.6L64.25 500.6L64.5 500.6L64.75 500.6L65 500.6L65.25 500.6L65.5 500.6L65.75 500.59L66 500.59L66.25 500.59L66.5 500.59L66.75 500.58L67 500.58L67.25 500.57L67.5 500.57L67.75 500.56L68 500.55L68.25 500.53L68.5 500.52L68.75 500.5L69 500.47L69.25 500.45L69.5 500.41L69.75 500.37L70 500.32L70.25 500.27L70.5 500.2L70.75 500.13L71 500.05L71.25 499.95L71.5 499.84L71.75 499.72L72 499.58L72.25 499.43L72.5 499.26L72.75 499.08L73 498.89L73.25 498.68L73.5 498.47L73.75 498.27L74 498.06L74.25 497.83L74.5 497.57L74.75 497.29L75 496.97L75.25 496.63L75.5 496.26L75.75 495.86L76 495.45L76.25 495.04L76.5 494.64L76.75 494.28L77 494.07L77.25 493.92L77.5 493.78L77.75 493.61L78 493.38L78.25 493.1L78.5 492.74L78.75 492.3L79 491.78L79.25 491.19L79.5 490.53L79.75 489.83L80 489.11L80.25 488.4L80.5 487.74L80.75 487.21L81 486.99L81.25 487.14L81.5 487.41L81.75 487.71L82 487.98L82.25 488.17L82.5 488.23L82.75 488.15L83 487.9L83.25 487.46L83.5 486.84L83.75 486.03L84 485.07L84.25 483.97L84.5 482.78L84.75 481.55L85 480.37L85.25 479.31L85.5 478.53L85.75 478.5L86 479.08L86.25 479.87L86.5 480.74L86.75 481.58L87 482.31L87.25 482.86L87.5 483.18L87.75 483.23L88 483.01L88.25 482.5L88.5 481.71L88.75 480.67L89 479.44L89.25 478.07L89.5 476.66L89.75 475.3L90 474.15L90.25 473.42L90.5 473.83L90.75 474.89L91 476.22L91.25 477.64L91.5 479.04L91.75 480.31L92 481.36L92.25 482.14L92.5 482.6L92.75 482.7L93 482.44L93.25 481.81L93.5 480.84L93.75 479.56L94 478.03L94.25 476.32L94.5 474.52L94.75 472.75L95 471.16L95.25 469.96L95.5 469.74L95.75 470.69L96 472.07L96.25 473.66L96.5 475.28L96.75 476.81L97 478.15L97.25 479.21L97.5 479.93L97.75 480.27L98 480.2L98.25 479.73L98.5 478.86L98.75 477.64L99 476.12L99.25 474.37L99.5 472.5L99.75 470.64L100 468.94L100.25 467.61L100.5 467.01L100.75 468.06L101 469.84L101.25 472L101.5 474.34L101.75 476.68L102 478.89L102.25 480.83L102.5 482.39L102.75 483.47L103 483.97L103.25 483.81L103.5 482.93L103.75 481.27L104 478.83L104.25 475.61L104.5 471.68L104.75 467.16L105 462.19L105.25 456.98L105.5 451.78L105.75 446.85L106 442.48L106.25 438.91L106.5 436.37L106.75 435.03L107 434.98L107.25 436.23L107.5 438.72L107.75 442.3L108 446.78L108.25 451.91L108.5 457.44L108.75 463.12L109 468.7L109.25 474L109.5 478.87L109.75 483.2L110 486.96L110.25 490.11L110.5 492.7L110.75 494.77L111 496.39L111.25 497.62L111.5 498.53L111.75 499.19L112 499.66L112.25 499.99L112.5 500.21L112.75 500.35L113 500.45L113.25 500.51L113.5 500.55L113.75 500.57L114 500.58L114.25 500.59L114.5 500.59L114.75 500.6L115 500.6L115.25 500.6L115.5 500.6L115.75 500.6L116 500.6L116.25 500.6L116.5 500.6L116.75 500.6L117 500.6L117.25 500.6L117.5 500.6L117.75 500.6L118 500.6L118.25 500.6L118.5 500.6L118.75 500.6L119 500.6L119.25 500.6L119.5 500.6L119.75 500.6L120 500.6L120.25 500.6L120.5 500.6L120.75 500.6L121 500.6L121.25 500.6L121.5 500.6L121.75 500.6L122 500.6L122.25 500.6L122.5 500.6L122.75 500.6L123 500.6L123.25 500.6L123.5 500.6L123.75 500.6L124 500.6L124.25 500.6L124.5 500.6L124.75 500.6L125 500.6L125.25 500.6L125.5 500.6L125.75 500.6L125.9 500.6Z"/></clipPath><clipPath id="c4"><path d="M149.2 500.6L149.2 500.6L149.45 500.6L149.7 500.6L149.95 500.6L150.2 500.6L150.45 500.6L150.7 500.6L150.95 500.6L151.2 500.6L151.45 500.6L151.7 500.6L151.95 500.6L152.2 500.6L152.45 500.6L152.7 500.6L152.95 500.6L153.2 500.6L153.45 500.6L153.7 500.6L153.95 500.6L154.2 500.6L154.45 500.6L154.7 500.6L154.95 500.6L155.2 500.6L155.45 500.6L155.7 500.6L155.95 500.6L156.2 500.6L156.45 500.6L156.7 500.6L156.95 500.6L157.2 500.6L157.45 500.6L157.7 500.6L157.95 500.6L158.2 500.6L158.45 500.6L158.7 500.6L158.95 500.6L159.2 500.6L159.45 500.6L159.7 500.6L159.95 500.6L160.2 500.6L160.45 500.6L160.7 500.6L160.95 500.6L161.2 500.6L161.45 500.6L161.7 500.6L161.95 500.6L162.2 500.6L162.45 500.6L162.7 500.6L162.95 500.6L163.2 500.6L163.45 500.6L163.7 500.6L163.95 500.6L164.2 500.6L164.45 500.6L164.7 500.6L164.95 500.6L165.2 500.6L165.45 500.6L165.7 500.6L165.95 500.6L166.2 500.6L166.45 500.6L166.7 500.6L166.95 500.6L167.2 500.6L167.45 500.6L167.7 500.6L167.95 500.6L168.2 500.6L168.45 500.6L168.7 500.6L168.95 500.6L169.2 500.6L169.45 500.6L169.7 500.6L169.95 500.6L170.2 500.6L170.45 500.6L170.7 500.6L170.95 500.6L171.2 500.6L171.45 500.6L171.7 500.6L171.95 500.6L172.2 500.6L172.45 500.6L172.7 500.6L172.95 500.6L173.2 500.6L173.45 500.6L173.7 500.6L173.95 500.6L174.2 500.6L174.45 500.6L174.7 500.6L174.95 500.6L175.2 500.6L175.45 500.6L175.7 500.6L175.95 500.6L176.2 500.6L176.45 500.6L176.7 500.6L176.95 500.6L177.2 500.6L177.45 500.6L177.7 500.6L177.95 500.6L178.2 500.6L178.45 500.6L178.7 500.59L178.95 500.59L179.2 500.59L179.45 500.58L179.7 500.57L179.95 500.56L180.2 500.55L180.45 500.52L180.7 500.49L180.95 500.45L181.2 500.4L181.45 500.33L181.7 500.25L181.95 500.14L182.2 500.02L182.45 499.86L182.7 499.68L182.95 499.46L183.2 499.21L183.45 498.93L183.7 498.65L183.95 498.32L184.2 497.92L184.45 497.42L184.7 496.8L184.95 496.07L185.2 495.23L185.45 494.3L185.7 493.32L185.95 492.36L186.2 491.49L186.45 490.85L186.7 490.73L186.95 491.09L187.2 491.62L187.45 492.24L187.7 492.92L187.95 493.61L188.2 494.28L188.45 494.9L188.7 495.46L188.95 495.93L189.2 496.32L189.45 496.6L189.7 496.77L189.95 496.83L190.2 496.79L190.45 496.63L190.7 496.38L190.95 496.02L191.2 495.57L191.45 495.05L191.7 494.46L191.95 493.83L192.2 493.18L192.45 492.56L192.7 492.07L192.95 491.76L193.2 491.46L193.45 491.14L193.7 490.77L193.95 490.32L194.2 489.77L194.45 489.13L194.7 488.4L194.95 487.59L195.2 486.73L195.45 485.83L195.7 484.96L195.95 484.18L196.2 483.77L196.45 483.55L196.7 483.38L196.95 483.2L197.2 482.98L197.45 482.7L197.7 482.34L197.95 481.9L198.2 481.39L198.45 480.83L198.7 480.23L198.95 479.63L199.2 479.09L199.45 478.69L199.7 478.79L199.95 479.14L200.2 479.52L200.45 479.85L200.7 480.07L200.95 480.14L201.2 480.02L201.45 479.67L201.7 479.05L201.95 478.1L202.2 476.74L202.45 474.94L202.7 473.03L202.95 470.38L203.2 466.54L203.45 461.45L203.7 455.36L203.95 448.83L204.2 442.7L204.45 437.9L204.7 435.29L204.95 435.41L205.2 437.35L205.45 440.53L205.7 444.79L205.95 449.91L206.2 455.61L206.45 461.6L206.7 467.57L206.95 473.29L207.2 478.55L207.45 483.22L207.7 487.23L207.95 490.56L208.2 493.24L208.45 495.33L208.7 496.92L208.95 498.09L209.2 498.93L209.45 499.51L209.7 499.91L209.95 500.17L210.2 500.34L210.45 500.45L210.7 500.51L210.95 500.55L211.2 500.57L211.45 500.58L211.7 500.59L211.95 500.6L212.2 500.6L212.45 500.6L212.7 500.6L212.95 500.6L213.2 500.6L213.45 500.6L213.7 500.6L213.95 500.6L214.2 500.6L214.45 500.6L214.7 500.6L214.95 500.6L215.2 500.6L215.45 500.6L215.7 500.6L215.95 500.6L216.2 500.6L216.45 500.6L216.7 500.6L216.95 500.6L217.2 500.6L217.45 500.6L217.7 500.6L217.95 500.6L218.2 500.6L218.45 500.6L218.7 500.6L218.95 500.6L219.2 500.6L219.45 500.6L219.7 500.6L219.95 500.6L220.2 500.6L220.45 500.6L220.7 500.6L220.95 500.6L221.2 500.6L221.45 500.6L221.7 500.6L221.95 500.6L222.2 500.6L222.45 500.6L222.6 500.6Z"/></clipPath>
</defs>
<rect x="50.9" y="325.5" width="76.1" height="65.6" fill="none" stroke="#000" stroke-width="1.45"/>
<line x1="47.3" y1="391.3" x2="50.9" y2="391.3" stroke="#000" stroke-width="1.0" stroke-linecap="butt"/>
<line x1="48.6" y1="387.63" x2="50.9" y2="387.63" stroke="#000" stroke-width="0.9" stroke-linecap="butt"/>
<line x1="48.6" y1="383.96" x2="50.9" y2="383.96" stroke="#000" stroke-width="0.9" stroke-linecap="butt"/>
<line x1="48.6" y1="380.29" x2="50.9" y2="380.29" stroke="#000" stroke-width="0.9" stroke-linecap="butt"/>
<line x1="47.3" y1="376.62" x2="50.9" y2="376.62" stroke="#000" stroke-width="1.0" stroke-linecap="butt"/>
<line x1="48.6" y1="372.96" x2="50.9" y2="372.96" stroke="#000" stroke-width="0.9" stroke-linecap="butt"/>
<line x1="48.6" y1="369.29" x2="50.9" y2="369.29" stroke="#000" stroke-width="0.9" stroke-linecap="butt"/>
<line x1="48.6" y1="365.62" x2="50.9" y2="365.62" stroke="#000" stroke-width="0.9" stroke-linecap="butt"/>
<line x1="47.3" y1="361.95" x2="50.9" y2="361.95" stroke="#000" stroke-width="1.0" stroke-linecap="butt"/>
<line x1="48.6" y1="358.28" x2="50.9" y2="358.28" stroke="#000" stroke-width="0.9" stroke-linecap="butt"/>
<line x1="48.6" y1="354.61" x2="50.9" y2="354.61" stroke="#000" stroke-width="0.9" stroke-linecap="butt"/>
<line x1="48.6" y1="350.94" x2="50.9" y2="350.94" stroke="#000" stroke-width="0.9" stroke-linecap="butt"/>
<line x1="47.3" y1="347.28" x2="50.9" y2="347.28" stroke="#000" stroke-width="1.0" stroke-linecap="butt"/>
<line x1="48.6" y1="343.61" x2="50.9" y2="343.61" stroke="#000" stroke-width="0.9" stroke-linecap="butt"/>
<line x1="48.6" y1="339.94" x2="50.9" y2="339.94" stroke="#000" stroke-width="0.9" stroke-linecap="butt"/>
<line x1="48.6" y1="336.27" x2="50.9" y2="336.27" stroke="#000" stroke-width="0.9" stroke-linecap="butt"/>
<line x1="47.3" y1="332.6" x2="50.9" y2="332.6" stroke="#000" stroke-width="1.0" stroke-linecap="butt"/>
<line x1="48.6" y1="328.93" x2="50.9" y2="328.93" stroke="#000" stroke-width="0.9" stroke-linecap="butt"/>
<text font-size="8.5" text-anchor="end" font-weight="normal" fill="#1a1a1a" transform="translate(46.2 393.6) scale(0.92 1)">0</text>
<text font-size="8.5" text-anchor="end" font-weight="normal" fill="#1a1a1a" transform="translate(46.2 379.1) scale(0.92 1)">100</text>
<text font-size="8.5" text-anchor="end" font-weight="normal" fill="#1a1a1a" transform="translate(46.2 364.6) scale(0.92 1)">200</text>
<text font-size="8.5" text-anchor="end" font-weight="normal" fill="#1a1a1a" transform="translate(46.2 349.9) scale(0.92 1)">300</text>
<text font-size="8.5" text-anchor="end" font-weight="normal" fill="#1a1a1a" transform="translate(46.2 334.9) scale(0.92 1)">400</text>
<text font-size="10" text-anchor="middle" font-weight="normal" fill="#1a1a1a" transform="translate(90.6 322.9) scale(0.95 1)">Teff</text>
<g clip-path="url(#c1)">
<rect x="51.5" y="311.3" width="74.4" height="80" fill="#f2d6ef"/>
<path d="M56 391.3L56 391.3L56.25 391.3L56.5 391.3L56.75 391.3L57 391.3L57.25 391.3L57.5 391.3L57.75 391.3L58 391.3L58.25 391.3L58.5 391.3L58.75 391.3L59 391.3L59.25 391.29L59.5 391.29L59.75 391.29L60 391.29L60.25 391.29L60.5 391.28L60.75 391.28L61 391.28L61.25 391.27L61.5 391.27L61.75 391.26L62 391.25L62.25 391.24L62.5 391.23L62.75 391.22L63 391.21L63.25 391.2L63.5 391.19L63.75 391.17L64 391.16L64.25 391.14L64.5 391.13L64.75 391.11L65 391.1L65.25 391.08L65.5 391.06L65.75 391.05L66 391.03L66.25 391.02L66.5 391.01L66.75 391L67 390.99L67.25 390.98L67.5 390.97L67.75 390.97L68 390.97L68.25 390.97L68.5 390.97L68.75 390.98L69 390.99L69.25 391L69.5 391.01L69.75 391.02L70 391.03L70.25 391.05L70.5 391.06L70.75 391.08L71 391.1L71.25 391.11L71.5 391.13L71.75 391.14L72 391.16L72.25 391.17L72.5 391.19L72.75 391.2L73 391.21L73.25 391.22L73.5 391.23L73.75 391.24L74 391.25L74.25 391.26L74.5 391.27L74.75 391.27L75 391.28L75.25 391.28L75.5 391.28L75.75 391.29L76 391.29L76.25 391.29L76.5 391.29L76.75 391.29L77 391.3L77.25 391.3L77.5 391.3L77.75 391.3L78 391.3L78.25 391.3L78.5 391.3L78.75 391.3L79 391.3L79.25 391.3L79.5 391.3L79.75 391.3L80 391.3L80 391.3Z" fill="#d682cf" fill-opacity="0.45" stroke="#b02c9c" stroke-opacity="0.6" stroke-width="0.9"/>
<path d="M63.25 391.3L63.25 391.3L63.5 391.3L63.75 391.3L64 391.3L64.25 391.3L64.5 391.29L64.75 391.29L65 391.29L65.25 391.28L65.5 391.27L65.75 391.27L66 391.25L66.25 391.24L66.5 391.22L66.75 391.2L67 391.17L67.25 391.13L67.5 391.09L67.75 391.04L68 390.98L68.25 390.91L68.5 390.83L68.75 390.74L69 390.64L69.25 390.53L69.5 390.42L69.75 390.29L70 390.16L70.25 390.02L70.5 389.89L70.75 389.75L71 389.62L71.25 389.5L71.5 389.39L71.75 389.29L72 389.21L72.25 389.16L72.5 389.12L72.75 389.1L73 389.11L73.25 389.14L73.5 389.19L73.75 389.26L74 389.35L74.25 389.46L74.5 389.57L74.75 389.7L75 389.83L75.25 389.97L75.5 390.1L75.75 390.24L76 390.37L76.25 390.49L76.5 390.6L76.75 390.7L77 390.8L77.25 390.88L77.5 390.95L77.75 391.02L78 391.07L78.25 391.12L78.5 391.16L78.75 391.19L79 391.21L79.25 391.23L79.5 391.25L79.75 391.26L80 391.27L80.25 391.28L80.5 391.28L80.75 391.29L81 391.29L81.25 391.29L81.5 391.3L81.75 391.3L82 391.3L82.25 391.3L82.5 391.3L82.5 391.3Z" fill="#d682cf" fill-opacity="0.45" stroke="#b02c9c" stroke-opacity="0.6" stroke-width="0.9"/>
<path d="M68.25 391.3L68.25 391.3L68.5 391.29L68.75 391.29L69 391.29L69.25 391.28L69.5 391.27L69.75 391.26L70 391.25L70.25 391.23L70.5 391.2L70.75 391.17L71 391.12L71.25 391.06L71.5 390.98L71.75 390.89L72 390.77L72.25 390.63L72.5 390.46L72.75 390.25L73 390.01L73.25 389.74L73.5 389.43L73.75 389.08L74 388.7L74.25 388.28L74.5 387.84L74.75 387.39L75 386.92L75.25 386.46L75.5 386.01L75.75 385.58L76 385.19L76.25 384.85L76.5 384.56L76.75 384.35L77 384.21L77.25 384.15L77.5 384.18L77.75 384.28L78 384.47L78.25 384.72L78.5 385.04L78.75 385.42L79 385.83L79.25 386.28L79.5 386.74L79.75 387.2L80 387.66L80.25 388.11L80.5 388.53L80.75 388.93L81 389.29L81.25 389.62L81.5 389.91L81.75 390.16L82 390.38L82.25 390.56L82.5 390.72L82.75 390.85L83 390.95L83.25 391.03L83.5 391.1L83.75 391.15L84 391.19L84.25 391.22L84.5 391.24L84.75 391.26L85 391.27L85.25 391.28L85.5 391.29L85.75 391.29L86 391.29L86.25 391.3L86.5 391.3L86.5 391.3Z" fill="#d682cf" fill-opacity="0.45" stroke="#b02c9c" stroke-opacity="0.6" stroke-width="0.9"/>
<path d="M73.5 391.3L73.5 391.29L73.75 391.29L74 391.29L74.25 391.28L74.5 391.27L74.75 391.26L75 391.24L75.25 391.21L75.5 391.17L75.75 391.12L76 391.05L76.25 390.95L76.5 390.83L76.75 390.68L77 390.48L77.25 390.23L77.5 389.93L77.75 389.57L78 389.13L78.25 388.62L78.5 388.04L78.75 387.38L79 386.64L79.25 385.84L79.5 384.98L79.75 384.08L80 383.16L80.25 382.24L80.5 381.34L80.75 380.5L81 379.74L81.25 379.08L81.5 378.54L81.75 378.16L82 377.94L82.25 377.88L82.5 378L82.75 378.29L83 378.74L83.25 379.33L83.5 380.03L83.75 380.83L84 381.7L84.25 382.61L84.5 383.53L84.75 384.45L85 385.33L85.25 386.17L85.5 386.94L85.75 387.65L86 388.28L86.25 388.84L86.5 389.31L86.75 389.72L87 390.06L87.25 390.34L87.5 390.56L87.75 390.74L88 390.89L88.25 390.99L88.5 391.08L88.75 391.14L89 391.19L89.25 391.22L89.5 391.25L89.75 391.26L90 391.28L90.25 391.28L90.5 391.29L90.75 391.29L90.75 391.3Z" fill="#d682cf" fill-opacity="0.45" stroke="#b02c9c" stroke-opacity="0.6" stroke-width="0.9"/>
<path d="M78.25 391.3L78.25 391.29L78.5 391.29L78.75 391.28L79 391.27L79.25 391.25L79.5 391.22L79.75 391.19L80 391.14L80.25 391.07L80.5 390.98L80.75 390.86L81 390.7L81.25 390.49L81.5 390.22L81.75 389.88L82 389.46L82.25 388.95L82.5 388.34L82.75 387.62L83 386.79L83.25 385.85L83.5 384.8L83.75 383.65L84 382.42L84.25 381.14L84.5 379.82L84.75 378.51L85 377.25L85.25 376.07L85.5 375.01L85.75 374.12L86 373.43L86.25 372.96L86.5 372.73L86.75 372.76L87 373.03L87.25 373.55L87.5 374.29L87.75 375.21L88 376.3L88.25 377.5L88.5 378.77L88.75 380.09L89 381.4L89.25 382.67L89.5 383.89L89.75 385.02L90 386.05L90.25 386.97L90.5 387.78L90.75 388.47L91 389.06L91.25 389.55L91.5 389.95L91.75 390.28L92 390.53L92.25 390.73L92.5 390.89L92.75 391L93 391.09L93.25 391.15L93.5 391.2L93.75 391.23L94 391.25L94.25 391.27L94.5 391.28L94.75 391.29L95 391.29L95 391.3Z" fill="#d682cf" fill-opacity="0.45" stroke="#b02c9c" stroke-opacity="0.6" stroke-width="0.9"/>
<path d="M83 391.3L83 391.29L83.25 391.29L83.5 391.28L83.75 391.27L84 391.25L84.25 391.22L84.5 391.18L84.75 391.13L85 391.05L85.25 390.95L85.5 390.81L85.75 390.63L86 390.39L86.25 390.08L86.5 389.68L86.75 389.19L87 388.58L87.25 387.85L87.5 386.98L87.75 385.96L88 384.79L88.25 383.47L88.5 382.01L88.75 380.43L89 378.75L89.25 377.01L89.5 375.25L89.75 373.51L90 371.86L90.25 370.34L90.5 369.01L90.75 367.92L91 367.11L91.25 366.61L91.5 366.44L91.75 366.61L92 367.11L92.25 367.92L92.5 369.01L92.75 370.34L93 371.86L93.25 373.51L93.5 375.25L93.75 377.01L94 378.75L94.25 380.43L94.5 382.01L94.75 383.47L95 384.79L95.25 385.96L95.5 386.98L95.75 387.85L96 388.58L96.25 389.19L96.5 389.68L96.75 390.08L97 390.39L97.25 390.63L97.5 390.81L97.75 390.95L98 391.05L98.25 391.13L98.5 391.18L98.75 391.22L99 391.25L99.25 391.27L99.5 391.28L99.75 391.29L100 391.29L100 391.3Z" fill="#d682cf" fill-opacity="0.45" stroke="#b02c9c" stroke-opacity="0.6" stroke-width="0.9"/>
<path d="M88.25 391.3L88.25 391.29L88.5 391.28L88.75 391.27L89 391.26L89.25 391.23L89.5 391.2L89.75 391.15L90 391.08L90.25 390.99L90.5 390.86L90.75 390.69L91 390.46L91.25 390.16L91.5 389.78L91.75 389.29L92 388.69L92.25 387.94L92.5 387.05L92.75 385.99L93 384.75L93.25 383.34L93.5 381.75L93.75 380L94 378.11L94.25 376.12L94.5 374.06L94.75 371.99L95 369.97L95.25 368.05L95.5 366.3L95.75 364.79L96 363.57L96.25 362.68L96.5 362.17L96.75 362.05L97 362.33L97.25 362.99L97.5 364.02L97.75 365.36L98 366.98L98.25 368.8L98.5 370.77L98.75 372.82L99 374.89L99.25 376.93L99.5 378.88L99.75 380.72L100 382.4L100.25 383.92L100.5 385.27L100.75 386.43L101 387.42L101.25 388.26L101.5 388.94L101.75 389.5L102 389.94L102.25 390.29L102.5 390.56L102.75 390.77L103 390.92L103.25 391.03L103.5 391.11L103.75 391.17L104 391.21L104.25 391.24L104.5 391.26L104.75 391.28L105 391.28L105.25 391.29L105.25 391.3Z" fill="#d682cf" fill-opacity="0.45" stroke="#b02c9c" stroke-opacity="0.6" stroke-width="0.9"/>
<path d="M93.5 391.3L93.5 391.28L93.75 391.28L94 391.26L94.25 391.24L94.5 391.21L94.75 391.17L95 391.11L95.25 391.02L95.5 390.9L95.75 390.73L96 390.51L96.25 390.22L96.5 389.83L96.75 389.34L97 388.73L97.25 387.96L97.5 387.02L97.75 385.89L98 384.56L98.25 383.02L98.5 381.26L98.75 379.29L99 377.13L99.25 374.81L99.5 372.37L99.75 369.87L100 367.36L100.25 364.92L100.5 362.62L100.75 360.55L101 358.78L101.25 357.37L101.5 356.39L101.75 355.86L102 355.81L102.25 356.24L102.5 357.14L102.75 358.47L103 360.17L103.25 362.19L103.5 364.44L103.75 366.86L104 369.36L104.25 371.87L104.5 374.33L104.75 376.68L105 378.88L105.25 380.88L105.5 382.69L105.75 384.27L106 385.65L106.25 386.81L106.5 387.79L106.75 388.59L107 389.23L107.25 389.75L107.5 390.15L107.75 390.46L108 390.69L108.25 390.87L108.5 391L108.75 391.09L109 391.16L109.25 391.2L109.5 391.24L109.75 391.26L110 391.27L110.25 391.28L110.25 391.3Z" fill="#d682cf" fill-opacity="0.45" stroke="#b02c9c" stroke-opacity="0.6" stroke-width="0.9"/>
<path d="M99 391.3L99 391.3L99.25 391.3L99.5 391.3L99.75 391.3L100 391.29L100.25 391.29L100.5 391.28L100.75 391.27L101 391.24L101.25 391.21L101.5 391.15L101.75 391.07L102 390.93L102.25 390.74L102.5 390.46L102.75 390.06L103 389.5L103.25 388.74L103.5 387.72L103.75 386.39L104 384.69L104.25 382.57L104.5 379.97L104.75 376.87L105 373.26L105.25 369.15L105.5 364.61L105.75 359.73L106 354.64L106.25 349.51L106.5 344.53L106.75 339.91L107 335.87L107.25 332.6L107.5 330.28L107.75 329.03L108 328.9L108.25 329.76L108.5 331.54L108.75 334.16L109 337.49L109.25 341.41L109.5 345.75L109.75 350.35L110 355.05L110.25 359.7L110.5 364.18L110.75 368.38L111 372.22L111.25 375.67L111.5 378.69L111.75 381.28L112 383.46L112.25 385.26L112.5 386.72L112.75 387.88L113 388.78L113.25 389.48L113.5 390L113.75 390.39L114 390.67L114.25 390.87L114.5 391.01L114.75 391.11L115 391.18L115.25 391.22L115.5 391.25L115.75 391.27L116 391.28L116.25 391.29L116.5 391.29L116.75 391.3L116.75 391.3Z" fill="#f4868a" fill-opacity="0.92"/>
</g>
<path d="M51.5 391.3L51.75 391.3L52 391.3L52.25 391.3L52.5 391.3L52.75 391.3L53 391.3L53.25 391.3L53.5 391.3L53.75 391.3L54 391.3L54.25 391.3L54.5 391.3L54.75 391.3L55 391.3L55.25 391.3L55.5 391.3L55.75 391.3L56 391.3L56.25 391.3L56.5 391.3L56.75 391.3L57 391.3L57.25 391.3L57.5 391.3L57.75 391.3L58 391.3L58.25 391.3L58.5 391.3L58.75 391.3L59 391.3L59.25 391.29L59.5 391.29L59.75 391.29L60 391.29L60.25 391.29L60.5 391.29L60.75 391.29L61 391.28L61.25 391.28L61.5 391.28L61.75 391.27L62 391.27L62.25 391.26L62.5 391.26L62.75 391.25L63 391.24L63.25 391.23L63.5 391.22L63.75 391.21L64 391.2L64.25 391.19L64.5 391.17L64.75 391.16L65 391.14L65.25 391.12L65.5 391.1L65.75 391.08L66 391.06L66.25 391.03L66.5 391L66.75 390.97L67 390.94L67.25 390.9L67.5 390.86L67.75 390.82L68 390.78L68.25 390.74L68.5 390.7L68.75 390.65L69 390.59L69.25 390.52L69.5 390.45L69.75 390.36L70 390.26L70.25 390.15L70.5 390.03L70.75 389.9L71 389.75L71.25 389.59L71.5 389.42L71.75 389.25L72 389.07L72.25 388.89L72.5 388.7L72.75 388.54L73 388.42L73.25 388.32L73.5 388.22L73.75 388.11L74 387.97L74.25 387.8L74.5 387.6L74.75 387.36L75 387.08L75.25 386.77L75.5 386.42L75.75 386.04L76 385.63L76.25 385.22L76.5 384.8L76.75 384.41L77 384.05L77.25 383.77L77.5 383.72L77.75 383.78L78 383.88L78.25 383.98L78.5 384.05L78.75 384.08L79 384.03L79.25 383.91L79.5 383.68L79.75 383.36L80 382.94L80.25 382.41L80.5 381.8L80.75 381.11L81 380.35L81.25 379.57L81.5 378.78L81.75 378.04L82 377.4L82.25 377.03L82.5 377.1L82.75 377.32L83 377.59L83.25 377.84L83.5 378.04L83.75 378.14L84 378.12L84.25 377.95L84.5 377.64L84.75 377.17L85 376.56L85.25 375.82L85.5 375.01L85.75 374.15L86 373.3L86.25 372.55L86.5 372L86.75 372.03L87 372.54L87.25 373.21L87.5 373.93L87.75 374.62L88 375.22L88.25 375.67L88.5 375.94L88.75 376L89 375.83L89.25 375.43L89.5 374.79L89.75 373.95L90 372.93L90.25 371.76L90.5 370.52L90.75 369.27L91 368.1L91.25 367.14L91.5 366.59L91.75 367.04L92 367.9L92.25 368.95L92.5 370.06L92.75 371.15L93 372.12L93.25 372.92L93.5 373.5L93.75 373.81L94 373.84L94.25 373.58L94.5 373.03L94.75 372.19L95 371.11L95.25 369.82L95.5 368.38L95.75 366.85L96 365.34L96.25 363.96L96.5 362.85L96.75 362.38L97 363L97.25 364.04L97.5 365.26L97.75 366.54L98 367.76L98.25 368.83L98.5 369.69L98.75 370.27L99 370.55L99.25 370.48L99.5 370.07L99.75 369.33L100 368.27L100.25 366.94L100.5 365.39L100.75 363.71L101 361.99L101.25 360.36L101.5 358.95L101.75 358L102 358.08L102.25 359.41L102.5 361.24L102.75 363.34L103 365.55L103.25 367.72L103.5 369.71L103.75 371.42L104 372.71L104.25 373.47L104.5 373.6L104.75 373L105 371.61L105.25 369.39L105.5 366.36L105.75 362.57L106 358.15L106.25 353.31L106.5 348.3L106.75 343.42L107 338.98L107.25 335.32L107.5 332.7L107.75 331.34L108 331.35L108.25 332.56L108.5 334.88L108.75 338.18L109 342.29L109.25 346.98L109.5 352.03L109.75 357.2L110 362.28L110.25 367.11L110.5 371.54L110.75 375.48L111 378.89L111.25 381.77L111.5 384.12L111.75 386L112 387.47L112.25 388.59L112.5 389.42L112.75 390.02L113 390.45L113.25 390.74L113.5 390.94L113.75 391.08L114 391.16L114.25 391.22L114.5 391.25L114.75 391.27L115 391.28L115.25 391.29L115.5 391.3L115.75 391.3L116 391.3L116.25 391.3L116.5 391.3L116.75 391.3L117 391.3L117.25 391.3L117.5 391.3L117.75 391.3L118 391.3L118.25 391.3L118.5 391.3L118.75 391.3L119 391.3L119.25 391.3L119.5 391.3L119.75 391.3L120 391.3L120.25 391.3L120.5 391.3L120.75 391.3L121 391.3L121.25 391.3L121.5 391.3L121.75 391.3L122 391.3L122.25 391.3L122.5 391.3L122.75 391.3L123 391.3L123.25 391.3L123.5 391.3L123.75 391.3L124 391.3L124.25 391.3L124.5 391.3L124.75 391.3L125 391.3L125.25 391.3L125.5 391.3L125.75 391.3" fill="none" stroke="#000" stroke-width="1.55" stroke-linejoin="round"/>
<line x1="51.5" y1="391.3" x2="51.5" y2="392.9" stroke="#000" stroke-width="0.6" stroke-linecap="butt"/>
<line x1="53.6" y1="391.3" x2="53.6" y2="392.9" stroke="#000" stroke-width="0.6" stroke-linecap="butt"/>
<line x1="55.7" y1="391.3" x2="55.7" y2="392.9" stroke="#000" stroke-width="0.6" stroke-linecap="butt"/>
<line x1="57.8" y1="391.3" x2="57.8" y2="392.9" stroke="#000" stroke-width="0.6" stroke-linecap="butt"/>
<line x1="59.9" y1="391.3" x2="59.9" y2="392.9" stroke="#000" stroke-width="0.6" stroke-linecap="butt"/>
<line x1="62" y1="391.3" x2="62" y2="392.9" stroke="#000" stroke-width="0.6" stroke-linecap="butt"/>
<line x1="64.1" y1="391.3" x2="64.1" y2="392.9" stroke="#000" stroke-width="0.6" stroke-linecap="butt"/>
<line x1="66.2" y1="391.3" x2="66.2" y2="392.9" stroke="#000" stroke-width="0.6" stroke-linecap="butt"/>
<line x1="68.3" y1="391.3" x2="68.3" y2="392.9" stroke="#000" stroke-width="0.6" stroke-linecap="butt"/>
<line x1="70.4" y1="391.3" x2="70.4" y2="392.9" stroke="#000" stroke-width="0.6" stroke-linecap="butt"/>
<line x1="72.5" y1="391.3" x2="72.5" y2="394.3" stroke="#000" stroke-width="0.9" stroke-linecap="butt"/>
<line x1="78.07" y1="391.3" x2="78.07" y2="393" stroke="#000" stroke-width="0.65" stroke-linecap="butt"/>
<line x1="81.33" y1="391.3" x2="81.33" y2="393" stroke="#000" stroke-width="0.65" stroke-linecap="butt"/>
<line x1="83.64" y1="391.3" x2="83.64" y2="393" stroke="#000" stroke-width="0.65" stroke-linecap="butt"/>
<line x1="85.43" y1="391.3" x2="85.43" y2="393" stroke="#000" stroke-width="0.65" stroke-linecap="butt"/>
<line x1="86.9" y1="391.3" x2="86.9" y2="393" stroke="#000" stroke-width="0.65" stroke-linecap="butt"/>
<line x1="88.13" y1="391.3" x2="88.13" y2="393" stroke="#000" stroke-width="0.65" stroke-linecap="butt"/>
<line x1="89.21" y1="391.3" x2="89.21" y2="393" stroke="#000" stroke-width="0.65" stroke-linecap="butt"/>
<line x1="90.15" y1="391.3" x2="90.15" y2="393" stroke="#000" stroke-width="0.65" stroke-linecap="butt"/>
<line x1="91" y1="391.3" x2="91" y2="394.3" stroke="#000" stroke-width="0.9" stroke-linecap="butt"/>
<line x1="95.52" y1="391.3" x2="95.52" y2="393" stroke="#000" stroke-width="0.65" stroke-linecap="butt"/>
<line x1="98.16" y1="391.3" x2="98.16" y2="393" stroke="#000" stroke-width="0.65" stroke-linecap="butt"/>
<line x1="100.03" y1="391.3" x2="100.03" y2="393" stroke="#000" stroke-width="0.65" stroke-linecap="butt"/>
<line x1="101.48" y1="391.3" x2="101.48" y2="393" stroke="#000" stroke-width="0.65" stroke-linecap="butt"/>
<line x1="102.67" y1="391.3" x2="102.67" y2="393" stroke="#000" stroke-width="0.65" stroke-linecap="butt"/>
<line x1="103.68" y1="391.3" x2="103.68" y2="393" stroke="#000" stroke-width="0.65" stroke-linecap="butt"/>
<line x1="104.55" y1="391.3" x2="104.55" y2="393" stroke="#000" stroke-width="0.65" stroke-linecap="butt"/>
<line x1="105.31" y1="391.3" x2="105.31" y2="393" stroke="#000" stroke-width="0.65" stroke-linecap="butt"/>
<line x1="106" y1="391.3" x2="106" y2="394.3" stroke="#000" stroke-width="0.9" stroke-linecap="butt"/>
<line x1="110.52" y1="391.3" x2="110.52" y2="393" stroke="#000" stroke-width="0.65" stroke-linecap="butt"/>
<line x1="113.16" y1="391.3" x2="113.16" y2="393" stroke="#000" stroke-width="0.65" stroke-linecap="butt"/>
<line x1="115.03" y1="391.3" x2="115.03" y2="393" stroke="#000" stroke-width="0.65" stroke-linecap="butt"/>
<line x1="116.48" y1="391.3" x2="116.48" y2="393" stroke="#000" stroke-width="0.65" stroke-linecap="butt"/>
<line x1="117.67" y1="391.3" x2="117.67" y2="393" stroke="#000" stroke-width="0.65" stroke-linecap="butt"/>
<line x1="118.68" y1="391.3" x2="118.68" y2="393" stroke="#000" stroke-width="0.65" stroke-linecap="butt"/>
<line x1="119.55" y1="391.3" x2="119.55" y2="393" stroke="#000" stroke-width="0.65" stroke-linecap="butt"/>
<line x1="120.31" y1="391.3" x2="120.31" y2="393" stroke="#000" stroke-width="0.65" stroke-linecap="butt"/>
<line x1="121" y1="391.3" x2="121" y2="394.3" stroke="#000" stroke-width="0.9" stroke-linecap="butt"/>
<text font-size="8.3" text-anchor="middle" font-weight="normal" fill="#1a1a1a" transform="translate(58.1 403.5) scale(0.92 1)">0</text>
<text font-size="8.3" text-anchor="middle" font-weight="normal" fill="#1a1a1a" transform="translate(72.1 403.5) scale(0.92 1)">10<tspan font-size="4.8" dy="-3.2">3</tspan></text>
<text font-size="8.3" text-anchor="middle" font-weight="normal" fill="#1a1a1a" transform="translate(90.6 403.5) scale(0.92 1)">10<tspan font-size="4.8" dy="-3.2">4</tspan></text>
<text font-size="8.3" text-anchor="middle" font-weight="normal" fill="#1a1a1a" transform="translate(105.6 403.5) scale(0.92 1)">10<tspan font-size="4.8" dy="-3.2">5</tspan></text>
<text font-size="8.3" text-anchor="middle" font-weight="normal" fill="#1a1a1a" transform="translate(120.6 403.5) scale(0.92 1)">10<tspan font-size="4.8" dy="-3.2">6</tspan></text>
<rect x="148.2" y="325.5" width="75.7" height="65.6" fill="none" stroke="#000" stroke-width="1.45"/>
<line x1="144.6" y1="391.3" x2="148.2" y2="391.3" stroke="#000" stroke-width="1.0" stroke-linecap="butt"/>
<line x1="145.9" y1="387.63" x2="148.2" y2="387.63" stroke="#000" stroke-width="0.9" stroke-linecap="butt"/>
<line x1="145.9" y1="383.96" x2="148.2" y2="383.96" stroke="#000" stroke-width="0.9" stroke-linecap="butt"/>
<line x1="145.9" y1="380.29" x2="148.2" y2="380.29" stroke="#000" stroke-width="0.9" stroke-linecap="butt"/>
<line x1="144.6" y1="376.62" x2="148.2" y2="376.62" stroke="#000" stroke-width="1.0" stroke-linecap="butt"/>
<line x1="145.9" y1="372.96" x2="148.2" y2="372.96" stroke="#000" stroke-width="0.9" stroke-linecap="butt"/>
<line x1="145.9" y1="369.29" x2="148.2" y2="369.29" stroke="#000" stroke-width="0.9" stroke-linecap="butt"/>
<line x1="145.9" y1="365.62" x2="148.2" y2="365.62" stroke="#000" stroke-width="0.9" stroke-linecap="butt"/>
<line x1="144.6" y1="361.95" x2="148.2" y2="361.95" stroke="#000" stroke-width="1.0" stroke-linecap="butt"/>
<line x1="145.9" y1="358.28" x2="148.2" y2="358.28" stroke="#000" stroke-width="0.9" stroke-linecap="butt"/>
<line x1="145.9" y1="354.61" x2="148.2" y2="354.61" stroke="#000" stroke-width="0.9" stroke-linecap="butt"/>
<line x1="145.9" y1="350.94" x2="148.2" y2="350.94" stroke="#000" stroke-width="0.9" stroke-linecap="butt"/>
<line x1="144.6" y1="347.28" x2="148.2" y2="347.28" stroke="#000" stroke-width="1.0" stroke-linecap="butt"/>
<line x1="145.9" y1="343.61" x2="148.2" y2="343.61" stroke="#000" stroke-width="0.9" stroke-linecap="butt"/>
<line x1="145.9" y1="339.94" x2="148.2" y2="339.94" stroke="#000" stroke-width="0.9" stroke-linecap="butt"/>
<line x1="145.9" y1="336.27" x2="148.2" y2="336.27" stroke="#000" stroke-width="0.9" stroke-linecap="butt"/>
<line x1="144.6" y1="332.6" x2="148.2" y2="332.6" stroke="#000" stroke-width="1.0" stroke-linecap="butt"/>
<line x1="145.9" y1="328.93" x2="148.2" y2="328.93" stroke="#000" stroke-width="0.9" stroke-linecap="butt"/>
<text font-size="8.5" text-anchor="end" font-weight="normal" fill="#1a1a1a" transform="translate(143.5 393.6) scale(0.92 1)">0</text>
<text font-size="8.5" text-anchor="end" font-weight="normal" fill="#1a1a1a" transform="translate(143.5 379.1) scale(0.92 1)">100</text>
<text font-size="8.5" text-anchor="end" font-weight="normal" fill="#1a1a1a" transform="translate(143.5 364.6) scale(0.92 1)">200</text>
<text font-size="8.5" text-anchor="end" font-weight="normal" fill="#1a1a1a" transform="translate(143.5 349.9) scale(0.92 1)">300</text>
<text font-size="8.5" text-anchor="end" font-weight="normal" fill="#1a1a1a" transform="translate(143.5 334.9) scale(0.92 1)">400</text>
<text font-size="10" text-anchor="middle" font-weight="normal" fill="#1a1a1a" transform="translate(188.6 322.6) scale(0.985 1)">Teff + Treg</text>
<g clip-path="url(#c2)">
<rect x="148" y="311" width="75.2" height="80" fill="#f2d6ef"/>
<path d="M150.5 391L150.5 391L150.75 391L151 391L151.25 391L151.5 391L151.75 391L152 391L152.25 391L152.5 391L152.75 391L153 391L153.25 390.99L153.5 390.99L153.75 390.99L154 390.99L154.25 390.99L154.5 390.99L154.75 390.98L155 390.98L155.25 390.97L155.5 390.97L155.75 390.96L156 390.96L156.25 390.95L156.5 390.94L156.75 390.93L157 390.92L157.25 390.91L157.5 390.89L157.75 390.88L158 390.86L158.25 390.84L158.5 390.82L158.75 390.79L159 390.77L159.25 390.74L159.5 390.71L159.75 390.68L160 390.65L160.25 390.62L160.5 390.59L160.75 390.55L161 390.51L161.25 390.48L161.5 390.44L161.75 390.41L162 390.37L162.25 390.34L162.5 390.3L162.75 390.27L163 390.24L163.25 390.21L163.5 390.19L163.75 390.17L164 390.15L164.25 390.14L164.5 390.13L164.75 390.12L165 390.12L165.25 390.12L165.5 390.13L165.75 390.14L166 390.15L166.25 390.17L166.5 390.19L166.75 390.21L167 390.24L167.25 390.27L167.5 390.3L167.75 390.34L168 390.37L168.25 390.41L168.5 390.44L168.75 390.48L169 390.51L169.25 390.55L169.5 390.59L169.75 390.62L170 390.65L170.25 390.68L170.5 390.71L170.75 390.74L171 390.77L171.25 390.79L171.5 390.82L171.75 390.84L172 390.86L172.25 390.88L172.5 390.89L172.75 390.91L173 390.92L173.25 390.93L173.5 390.94L173.75 390.95L174 390.96L174.25 390.96L174.5 390.97L174.75 390.97L175 390.98L175.25 390.98L175.5 390.99L175.75 390.99L176 390.99L176.25 390.99L176.5 390.99L176.75 390.99L177 391L177.25 391L177.5 391L177.75 391L178 391L178.25 391L178.5 391L178.75 391L179 391L179.25 391L179.5 391L179.5 391Z" fill="#d682cf" fill-opacity="0.45" stroke="#b02c9c" stroke-opacity="0.6" stroke-width="0.9"/>
<path d="M160.25 391L160.25 391L160.5 391L160.75 391L161 391L161.25 391L161.5 390.99L161.75 390.99L162 390.99L162.25 390.99L162.5 390.98L162.75 390.97L163 390.96L163.25 390.95L163.5 390.94L163.75 390.92L164 390.89L164.25 390.86L164.5 390.83L164.75 390.78L165 390.73L165.25 390.67L165.5 390.6L165.75 390.51L166 390.42L166.25 390.32L166.5 390.21L166.75 390.09L167 389.96L167.25 389.83L167.5 389.7L167.75 389.56L168 389.43L168.25 389.3L168.5 389.18L168.75 389.07L169 388.98L169.25 388.9L169.5 388.85L169.75 388.81L170 388.8L170.25 388.81L170.5 388.85L170.75 388.9L171 388.98L171.25 389.07L171.5 389.18L171.75 389.3L172 389.43L172.25 389.56L172.5 389.7L172.75 389.83L173 389.96L173.25 390.09L173.5 390.21L173.75 390.32L174 390.42L174.25 390.51L174.5 390.6L174.75 390.67L175 390.73L175.25 390.78L175.5 390.83L175.75 390.86L176 390.89L176.25 390.92L176.5 390.94L176.75 390.95L177 390.96L177.25 390.97L177.5 390.98L177.75 390.99L178 390.99L178.25 390.99L178.5 390.99L178.75 391L179 391L179.25 391L179.5 391L179.75 391L179.75 391Z" fill="#d682cf" fill-opacity="0.45" stroke="#b02c9c" stroke-opacity="0.6" stroke-width="0.9"/>
<path d="M165.75 391L165.75 391L166 391L166.25 390.99L166.5 390.99L166.75 390.99L167 390.98L167.25 390.97L167.5 390.96L167.75 390.94L168 390.92L168.25 390.88L168.5 390.84L168.75 390.78L169 390.71L169.25 390.62L169.5 390.5L169.75 390.36L170 390.19L170.25 389.98L170.5 389.74L170.75 389.46L171 389.14L171.25 388.78L171.5 388.4L171.75 387.98L172 387.54L172.25 387.09L172.5 386.63L172.75 386.19L173 385.77L173.25 385.38L173.5 385.05L173.75 384.77L174 384.57L174.25 384.44L174.5 384.4L174.75 384.44L175 384.57L175.25 384.77L175.5 385.05L175.75 385.38L176 385.77L176.25 386.19L176.5 386.63L176.75 387.09L177 387.54L177.25 387.98L177.5 388.4L177.75 388.78L178 389.14L178.25 389.46L178.5 389.74L178.75 389.98L179 390.19L179.25 390.36L179.5 390.5L179.75 390.62L180 390.71L180.25 390.78L180.5 390.84L180.75 390.88L181 390.92L181.25 390.94L181.5 390.96L181.75 390.97L182 390.98L182.25 390.99L182.5 390.99L182.75 390.99L183 391L183.25 391L183.25 391Z" fill="#d682cf" fill-opacity="0.45" stroke="#b02c9c" stroke-opacity="0.6" stroke-width="0.9"/>
<path d="M171.5 391L171.5 390.99L171.75 390.99L172 390.98L172.25 390.97L172.5 390.95L172.75 390.92L173 390.89L173.25 390.83L173.5 390.75L173.75 390.65L174 390.51L174.25 390.32L174.5 390.07L174.75 389.75L175 389.35L175.25 388.86L175.5 388.27L175.75 387.58L176 386.77L176.25 385.87L176.5 384.87L176.75 383.79L177 382.66L177.25 381.51L177.5 380.38L177.75 379.3L178 378.32L178.25 377.49L178.5 376.83L178.75 376.39L179 376.17L179.25 376.19L179.5 376.46L179.75 376.95L180 377.64L180.25 378.51L180.5 379.51L180.75 380.6L181 381.74L181.25 382.89L181.5 384.01L181.75 385.07L182 386.06L182.25 386.94L182.5 387.73L182.75 388.4L183 388.97L183.25 389.44L183.5 389.82L183.75 390.12L184 390.36L184.25 390.54L184.5 390.67L184.75 390.77L185 390.84L185.25 390.89L185.5 390.93L185.75 390.95L186 390.97L186.25 390.98L186.5 390.99L186.75 390.99L186.75 391Z" fill="#d682cf" fill-opacity="0.45" stroke="#b02c9c" stroke-opacity="0.6" stroke-width="0.9"/>
<path d="M177 391L177 390.99L177.25 390.98L177.5 390.97L177.75 390.95L178 390.93L178.25 390.88L178.5 390.82L178.75 390.73L179 390.6L179.25 390.41L179.5 390.16L179.75 389.82L180 389.37L180.25 388.79L180.5 388.06L180.75 387.16L181 386.09L181.25 384.82L181.5 383.38L181.75 381.77L182 380.03L182.25 378.19L182.5 376.33L182.75 374.51L183 372.8L183.25 371.28L183.5 370.04L183.75 369.12L184 368.58L184.25 368.46L184.5 368.75L184.75 369.44L185 370.5L185.25 371.86L185.5 373.46L185.75 375.23L186 377.08L186.25 378.93L186.5 380.74L186.75 382.43L187 383.98L187.25 385.35L187.5 386.54L187.75 387.54L188 388.37L188.25 389.04L188.5 389.56L188.75 389.96L189 390.27L189.25 390.49L189.5 390.66L189.75 390.77L190 390.85L190.25 390.9L190.5 390.94L190.75 390.96L191 390.98L191.25 390.99L191.5 390.99L191.5 391Z" fill="#d682cf" fill-opacity="0.45" stroke="#b02c9c" stroke-opacity="0.6" stroke-width="0.9"/>
<path d="M181.5 391L181.5 390.99L181.75 390.98L182 390.97L182.25 390.95L182.5 390.92L182.75 390.88L183 390.81L183.25 390.72L183.5 390.58L183.75 390.38L184 390.12L184.25 389.76L184.5 389.29L184.75 388.68L185 387.92L185.25 386.98L185.5 385.85L185.75 384.52L186 383.01L186.25 381.32L186.5 379.49L186.75 377.57L187 375.62L187.25 373.7L187.5 371.91L187.75 370.32L188 369.01L188.25 368.05L188.5 367.49L188.75 367.36L189 367.66L189.25 368.39L189.5 369.5L189.75 370.93L190 372.61L190.25 374.46L190.5 376.4L190.75 378.35L191 380.24L191.25 382.01L191.5 383.64L191.75 385.08L192 386.32L192.25 387.37L192.5 388.24L192.75 388.94L193 389.49L193.25 389.91L193.5 390.23L193.75 390.47L194 390.64L194.25 390.76L194.5 390.84L194.75 390.9L195 390.94L195.25 390.96L195.5 390.98L195.75 390.99L196 390.99L196 391Z" fill="#d682cf" fill-opacity="0.45" stroke="#b02c9c" stroke-opacity="0.6" stroke-width="0.9"/>
<path d="M185.75 391L185.75 390.99L186 390.98L186.25 390.97L186.5 390.95L186.75 390.92L187 390.88L187.25 390.82L187.5 390.73L187.75 390.61L188 390.43L188.25 390.19L188.5 389.87L188.75 389.45L189 388.9L189.25 388.2L189.5 387.34L189.75 386.28L190 385.02L190.25 383.54L190.5 381.85L190.75 379.95L191 377.89L191.25 375.68L191.5 373.4L191.75 371.1L192 368.87L192.25 366.79L192.5 364.94L192.75 363.41L193 362.26L193.25 361.54L193.5 361.3L193.75 361.54L194 362.26L194.25 363.41L194.5 364.94L194.75 366.79L195 368.87L195.25 371.1L195.5 373.4L195.75 375.68L196 377.89L196.25 379.95L196.5 381.85L196.75 383.54L197 385.02L197.25 386.28L197.5 387.34L197.75 388.2L198 388.9L198.25 389.45L198.5 389.87L198.75 390.19L199 390.43L199.25 390.61L199.5 390.73L199.75 390.82L200 390.88L200.25 390.92L200.5 390.95L200.75 390.97L201 390.98L201.25 390.99L201.25 391Z" fill="#d682cf" fill-opacity="0.45" stroke="#b02c9c" stroke-opacity="0.6" stroke-width="0.9"/>
<path d="M191.5 391L191.5 390.98L191.75 390.97L192 390.95L192.25 390.93L192.5 390.88L192.75 390.82L193 390.73L193.25 390.61L193.5 390.43L193.75 390.18L194 389.85L194.25 389.4L194.5 388.82L194.75 388.08L195 387.16L195.25 386.01L195.5 384.64L195.75 383.02L196 381.14L196.25 379.02L196.5 376.69L196.75 374.17L197 371.54L197.25 368.85L197.5 366.21L197.75 363.7L198 361.42L198.25 359.47L198.5 357.94L198.75 356.9L199 356.4L199.25 356.45L199.5 357.07L199.75 358.21L200 359.83L200.25 361.85L200.5 364.19L200.75 366.73L201 369.39L201.25 372.07L201.5 374.69L201.75 377.17L202 379.47L202.25 381.54L202.5 383.36L202.75 384.93L203 386.26L203.25 387.36L203.5 388.25L203.75 388.95L204 389.5L204.25 389.92L204.5 390.24L204.75 390.47L205 390.63L205.25 390.75L205.5 390.84L205.75 390.89L206 390.93L206.25 390.96L206.5 390.97L206.75 390.98L206.75 391Z" fill="#d682cf" fill-opacity="0.45" stroke="#b02c9c" stroke-opacity="0.6" stroke-width="0.9"/>
<path d="M197.25 391L197.25 391L197.5 391L197.75 390.99L198 390.99L198.25 390.98L198.5 390.96L198.75 390.93L199 390.87L199.25 390.79L199.5 390.65L199.75 390.44L200 390.12L200.25 389.66L200.5 388.98L200.75 388.03L201 386.74L201.25 385.02L201.5 382.79L201.75 379.98L202 376.54L202.25 372.44L202.5 367.71L202.75 362.42L203 356.71L203.25 350.78L203.5 344.87L203.75 339.26L204 334.27L204.25 330.18L204.5 327.24L204.75 325.64L205 325.49L205.25 326.71L205.5 329.23L205.75 332.88L206 337.45L206.25 342.69L206.5 348.32L206.75 354.08L207 359.72L207.25 365.05L207.5 369.93L207.75 374.24L208 377.95L208.25 381.04L208.5 383.56L208.75 385.56L209 387.11L209.25 388.27L209.5 389.13L209.75 389.74L210 390.17L210.25 390.47L210.5 390.66L210.75 390.79L211 390.87L211.25 390.93L211.5 390.96L211.75 390.98L212 390.99L212.25 390.99L212.5 391L212.5 391Z" fill="#f4868a" fill-opacity="0.92"/>
</g>
<path d="M148 391L148.25 391L148.5 391L148.75 391L149 391L149.25 391L149.5 391L149.75 391L150 391L150.25 391L150.5 391L150.75 391L151 391L151.25 391L151.5 391L151.75 391L152 391L152.25 391L152.5 391L152.75 391L153 390.99L153.25 390.99L153.5 390.99L153.75 390.99L154 390.99L154.25 390.99L154.5 390.99L154.75 390.98L155 390.98L155.25 390.98L155.5 390.98L155.75 390.97L156 390.97L156.25 390.96L156.5 390.96L156.75 390.95L157 390.94L157.25 390.94L157.5 390.93L157.75 390.92L158 390.91L158.25 390.89L158.5 390.88L158.75 390.87L159 390.85L159.25 390.83L159.5 390.81L159.75 390.79L160 390.77L160.25 390.75L160.5 390.72L160.75 390.69L161 390.66L161.25 390.63L161.5 390.6L161.75 390.56L162 390.53L162.25 390.49L162.5 390.45L162.75 390.41L163 390.37L163.25 390.32L163.5 390.28L163.75 390.24L164 390.19L164.25 390.15L164.5 390.1L164.75 390.06L165 390.01L165.25 389.98L165.5 389.96L165.75 389.92L166 389.89L166.25 389.85L166.5 389.8L166.75 389.74L167 389.68L167.25 389.6L167.5 389.51L167.75 389.42L168 389.31L168.25 389.19L168.5 389.06L168.75 388.92L169 388.78L169.25 388.63L169.5 388.48L169.75 388.34L170 388.22L170.25 388.15L170.5 388.1L170.75 388.04L171 387.96L171.25 387.86L171.5 387.73L171.75 387.57L172 387.36L172.25 387.12L172.5 386.83L172.75 386.51L173 386.15L173.25 385.77L173.5 385.38L173.75 384.98L174 384.61L174.25 384.27L174.5 384.03L174.75 384.02L175 384.09L175.25 384.17L175.5 384.23L175.75 384.25L176 384.18L176.25 384.02L176.5 383.74L176.75 383.35L177 382.83L177.25 382.19L177.5 381.44L177.75 380.6L178 379.71L178.25 378.8L178.5 377.94L178.75 377.19L179 376.67L179.25 376.73L179.5 377.27L179.75 377.98L180 378.77L180.25 379.55L180.5 380.24L180.75 380.8L181 381.17L181.25 381.33L181.5 381.25L181.75 380.9L182 380.29L182.25 379.42L182.5 378.3L182.75 376.98L183 375.5L183.25 373.93L183.5 372.37L183.75 370.92L184 369.75L184.25 369.24L184.5 369.83L184.75 370.83L185 372.01L185.25 373.21L185.5 374.32L185.75 375.24L186 375.9L186.25 376.25L186.5 376.27L186.75 375.95L187 375.31L187.25 374.37L187.5 373.19L187.75 371.85L188 370.45L188.25 369.12L188.5 368.04L188.75 367.6L189 368.29L189.25 369.38L189.5 370.64L189.75 371.9L190 373.05L190.25 374L190.5 374.67L190.75 375.01L191 374.99L191.25 374.61L191.5 373.87L191.75 372.8L192 371.44L192.25 369.86L192.5 368.16L192.75 366.44L193 364.84L193.25 363.54L193.5 362.86L193.75 363.6L194 364.96L194.25 366.63L194.5 368.43L194.75 370.22L195 371.88L195.25 373.34L195.5 374.51L195.75 375.35L196 375.81L196.25 375.88L196.5 375.54L196.75 374.79L197 373.66L197.25 372.17L197.5 370.39L197.75 368.38L198 366.23L198.25 364.07L198.5 362.03L198.75 360.31L199 359.19L199.25 359.48L199.5 361L199.75 363.04L200 365.36L200.25 367.78L200.5 370.13L200.75 372.27L201 374.05L201.25 375.35L201.5 376.03L201.75 375.95L202 374.99L202.25 373.07L202.5 370.13L202.75 366.19L203 361.34L203.25 355.79L203.5 349.84L203.75 343.86L204 338.3L204.25 333.6L204.5 330.17L204.75 328.34L205 328.27L205.25 329.91L205.5 333.11L205.75 337.63L206 343.13L206.25 349.24L206.5 355.56L206.75 361.75L207 367.52L207.25 372.66L207.5 377.07L207.75 380.71L208 383.61L208.25 385.83L208.5 387.49L208.75 388.68L209 389.51L209.25 390.07L209.5 390.43L209.75 390.66L210 390.81L210.25 390.89L210.5 390.94L210.75 390.97L211 390.98L211.25 390.99L211.5 391L211.75 391L212 391L212.25 391L212.5 391L212.75 391L213 391L213.25 391L213.5 391L213.75 391L214 391L214.25 391L214.5 391L214.75 391L215 391L215.25 391L215.5 391L215.75 391L216 391L216.25 391L216.5 391L216.75 391L217 391L217.25 391L217.5 391L217.75 391L218 391L218.25 391L218.5 391L218.75 391L219 391L219.25 391L219.5 391L219.75 391L220 391L220.25 391L220.5 391L220.75 391L221 391L221.25 391L221.5 391L221.75 391L222 391L222.25 391L222.5 391L222.75 391L223 391" fill="none" stroke="#000" stroke-width="1.55" stroke-linejoin="round"/>
<line x1="149.2" y1="391.1" x2="149.2" y2="392.7" stroke="#000" stroke-width="0.6" stroke-linecap="butt"/>
<line x1="151.28" y1="391.1" x2="151.28" y2="392.7" stroke="#000" stroke-width="0.6" stroke-linecap="butt"/>
<line x1="153.36" y1="391.1" x2="153.36" y2="392.7" stroke="#000" stroke-width="0.6" stroke-linecap="butt"/>
<line x1="155.44" y1="391.1" x2="155.44" y2="392.7" stroke="#000" stroke-width="0.6" stroke-linecap="butt"/>
<line x1="157.52" y1="391.1" x2="157.52" y2="392.7" stroke="#000" stroke-width="0.6" stroke-linecap="butt"/>
<line x1="159.6" y1="391.1" x2="159.6" y2="392.7" stroke="#000" stroke-width="0.6" stroke-linecap="butt"/>
<line x1="161.68" y1="391.1" x2="161.68" y2="392.7" stroke="#000" stroke-width="0.6" stroke-linecap="butt"/>
<line x1="163.76" y1="391.1" x2="163.76" y2="392.7" stroke="#000" stroke-width="0.6" stroke-linecap="butt"/>
<line x1="165.84" y1="391.1" x2="165.84" y2="392.7" stroke="#000" stroke-width="0.6" stroke-linecap="butt"/>
<line x1="167.92" y1="391.1" x2="167.92" y2="392.7" stroke="#000" stroke-width="0.6" stroke-linecap="butt"/>
<line x1="170" y1="391.1" x2="170" y2="394.1" stroke="#000" stroke-width="0.9" stroke-linecap="butt"/>
<line x1="175.42" y1="391.1" x2="175.42" y2="392.8" stroke="#000" stroke-width="0.65" stroke-linecap="butt"/>
<line x1="178.59" y1="391.1" x2="178.59" y2="392.8" stroke="#000" stroke-width="0.65" stroke-linecap="butt"/>
<line x1="180.84" y1="391.1" x2="180.84" y2="392.8" stroke="#000" stroke-width="0.65" stroke-linecap="butt"/>
<line x1="182.58" y1="391.1" x2="182.58" y2="392.8" stroke="#000" stroke-width="0.65" stroke-linecap="butt"/>
<line x1="184.01" y1="391.1" x2="184.01" y2="392.8" stroke="#000" stroke-width="0.65" stroke-linecap="butt"/>
<line x1="185.21" y1="391.1" x2="185.21" y2="392.8" stroke="#000" stroke-width="0.65" stroke-linecap="butt"/>
<line x1="186.26" y1="391.1" x2="186.26" y2="392.8" stroke="#000" stroke-width="0.65" stroke-linecap="butt"/>
<line x1="187.18" y1="391.1" x2="187.18" y2="392.8" stroke="#000" stroke-width="0.65" stroke-linecap="butt"/>
<line x1="188" y1="391.1" x2="188" y2="394.1" stroke="#000" stroke-width="0.9" stroke-linecap="butt"/>
<line x1="192.52" y1="391.1" x2="192.52" y2="392.8" stroke="#000" stroke-width="0.65" stroke-linecap="butt"/>
<line x1="195.16" y1="391.1" x2="195.16" y2="392.8" stroke="#000" stroke-width="0.65" stroke-linecap="butt"/>
<line x1="197.03" y1="391.1" x2="197.03" y2="392.8" stroke="#000" stroke-width="0.65" stroke-linecap="butt"/>
<line x1="198.48" y1="391.1" x2="198.48" y2="392.8" stroke="#000" stroke-width="0.65" stroke-linecap="butt"/>
<line x1="199.67" y1="391.1" x2="199.67" y2="392.8" stroke="#000" stroke-width="0.65" stroke-linecap="butt"/>
<line x1="200.68" y1="391.1" x2="200.68" y2="392.8" stroke="#000" stroke-width="0.65" stroke-linecap="butt"/>
<line x1="201.55" y1="391.1" x2="201.55" y2="392.8" stroke="#000" stroke-width="0.65" stroke-linecap="butt"/>
<line x1="202.31" y1="391.1" x2="202.31" y2="392.8" stroke="#000" stroke-width="0.65" stroke-linecap="butt"/>
<line x1="203" y1="391.1" x2="203" y2="394.1" stroke="#000" stroke-width="0.9" stroke-linecap="butt"/>
<line x1="207.82" y1="391.1" x2="207.82" y2="392.8" stroke="#000" stroke-width="0.65" stroke-linecap="butt"/>
<line x1="210.63" y1="391.1" x2="210.63" y2="392.8" stroke="#000" stroke-width="0.65" stroke-linecap="butt"/>
<line x1="212.63" y1="391.1" x2="212.63" y2="392.8" stroke="#000" stroke-width="0.65" stroke-linecap="butt"/>
<line x1="214.18" y1="391.1" x2="214.18" y2="392.8" stroke="#000" stroke-width="0.65" stroke-linecap="butt"/>
<line x1="215.45" y1="391.1" x2="215.45" y2="392.8" stroke="#000" stroke-width="0.65" stroke-linecap="butt"/>
<line x1="216.52" y1="391.1" x2="216.52" y2="392.8" stroke="#000" stroke-width="0.65" stroke-linecap="butt"/>
<line x1="217.45" y1="391.1" x2="217.45" y2="392.8" stroke="#000" stroke-width="0.65" stroke-linecap="butt"/>
<line x1="218.27" y1="391.1" x2="218.27" y2="392.8" stroke="#000" stroke-width="0.65" stroke-linecap="butt"/>
<line x1="219" y1="391.1" x2="219" y2="394.1" stroke="#000" stroke-width="0.9" stroke-linecap="butt"/>
<text font-size="8.3" text-anchor="middle" font-weight="normal" fill="#1a1a1a" transform="translate(155.3 403.5) scale(0.92 1)">0</text>
<text font-size="8.3" text-anchor="middle" font-weight="normal" fill="#1a1a1a" transform="translate(169.4 403.5) scale(0.92 1)">10<tspan font-size="4.8" dy="-3.2">3</tspan></text>
<text font-size="8.3" text-anchor="middle" font-weight="normal" fill="#1a1a1a" transform="translate(187.9 403.5) scale(0.92 1)">10<tspan font-size="4.8" dy="-3.2">4</tspan></text>
<text font-size="8.3" text-anchor="middle" font-weight="normal" fill="#1a1a1a" transform="translate(202.4 403.5) scale(0.92 1)">10<tspan font-size="4.8" dy="-3.2">5</tspan></text>
<text font-size="8.3" text-anchor="middle" font-weight="normal" fill="#1a1a1a" transform="translate(218.6 403.5) scale(0.92 1)">10<tspan font-size="4.8" dy="-3.2">6</tspan></text>
<rect x="50.9" y="430.8" width="76" height="70.1" fill="none" stroke="#000" stroke-width="1.45"/>
<line x1="47.3" y1="500.6" x2="50.9" y2="500.6" stroke="#000" stroke-width="1.0" stroke-linecap="butt"/>
<line x1="48.6" y1="496.63" x2="50.9" y2="496.63" stroke="#000" stroke-width="0.9" stroke-linecap="butt"/>
<line x1="48.6" y1="492.66" x2="50.9" y2="492.66" stroke="#000" stroke-width="0.9" stroke-linecap="butt"/>
<line x1="48.6" y1="488.69" x2="50.9" y2="488.69" stroke="#000" stroke-width="0.9" stroke-linecap="butt"/>
<line x1="47.3" y1="484.73" x2="50.9" y2="484.73" stroke="#000" stroke-width="1.0" stroke-linecap="butt"/>
<line x1="48.6" y1="480.76" x2="50.9" y2="480.76" stroke="#000" stroke-width="0.9" stroke-linecap="butt"/>
<line x1="48.6" y1="476.79" x2="50.9" y2="476.79" stroke="#000" stroke-width="0.9" stroke-linecap="butt"/>
<line x1="48.6" y1="472.82" x2="50.9" y2="472.82" stroke="#000" stroke-width="0.9" stroke-linecap="butt"/>
<line x1="47.3" y1="468.85" x2="50.9" y2="468.85" stroke="#000" stroke-width="1.0" stroke-linecap="butt"/>
<line x1="48.6" y1="464.88" x2="50.9" y2="464.88" stroke="#000" stroke-width="0.9" stroke-linecap="butt"/>
<line x1="48.6" y1="460.91" x2="50.9" y2="460.91" stroke="#000" stroke-width="0.9" stroke-linecap="butt"/>
<line x1="48.6" y1="456.94" x2="50.9" y2="456.94" stroke="#000" stroke-width="0.9" stroke-linecap="butt"/>
<line x1="47.3" y1="452.98" x2="50.9" y2="452.98" stroke="#000" stroke-width="1.0" stroke-linecap="butt"/>
<line x1="48.6" y1="449.01" x2="50.9" y2="449.01" stroke="#000" stroke-width="0.9" stroke-linecap="butt"/>
<line x1="48.6" y1="445.04" x2="50.9" y2="445.04" stroke="#000" stroke-width="0.9" stroke-linecap="butt"/>
<line x1="48.6" y1="441.07" x2="50.9" y2="441.07" stroke="#000" stroke-width="0.9" stroke-linecap="butt"/>
<line x1="47.3" y1="437.1" x2="50.9" y2="437.1" stroke="#000" stroke-width="1.0" stroke-linecap="butt"/>
<line x1="48.6" y1="433.13" x2="50.9" y2="433.13" stroke="#000" stroke-width="0.9" stroke-linecap="butt"/>
<text font-size="8.5" text-anchor="end" font-weight="normal" fill="#1a1a1a" transform="translate(46.2 502.9) scale(0.92 1)">0</text>
<text font-size="8.5" text-anchor="end" font-weight="normal" fill="#1a1a1a" transform="translate(46.2 486.9) scale(0.92 1)">100</text>
<text font-size="8.5" text-anchor="end" font-weight="normal" fill="#1a1a1a" transform="translate(46.2 471.1) scale(0.92 1)">200</text>
<text font-size="8.5" text-anchor="end" font-weight="normal" fill="#1a1a1a" transform="translate(46.2 455.3) scale(0.92 1)">300</text>
<text font-size="8.5" text-anchor="end" font-weight="normal" fill="#1a1a1a" transform="translate(46.2 439.4) scale(0.92 1)">400</text>
<text font-size="10" text-anchor="middle" font-weight="normal" fill="#1a1a1a" transform="translate(90.6 427.3) scale(0.95 1)">Teff</text>
<g clip-path="url(#c3)">
<rect x="51.5" y="420.6" width="74.4" height="80" fill="#f2d6ef"/>
<path d="M64.25 500.6L64.25 500.6L64.5 500.6L64.75 500.6L65 500.6L65.25 500.6L65.5 500.6L65.75 500.6L66 500.59L66.25 500.59L66.5 500.59L66.75 500.58L67 500.58L67.25 500.57L67.5 500.56L67.75 500.55L68 500.53L68.25 500.51L68.5 500.49L68.75 500.46L69 500.43L69.25 500.39L69.5 500.35L69.75 500.3L70 500.25L70.25 500.19L70.5 500.12L70.75 500.05L71 499.98L71.25 499.91L71.5 499.84L71.75 499.77L72 499.71L72.25 499.65L72.5 499.6L72.75 499.56L73 499.53L73.25 499.51L73.5 499.5L73.75 499.51L74 499.53L74.25 499.56L74.5 499.6L74.75 499.65L75 499.71L75.25 499.77L75.5 499.84L75.75 499.91L76 499.98L76.25 500.05L76.5 500.12L76.75 500.19L77 500.25L77.25 500.3L77.5 500.35L77.75 500.39L78 500.43L78.25 500.46L78.5 500.49L78.75 500.51L79 500.53L79.25 500.55L79.5 500.56L79.75 500.57L80 500.58L80.25 500.58L80.5 500.59L80.75 500.59L81 500.59L81.25 500.6L81.5 500.6L81.75 500.6L82 500.6L82.25 500.6L82.5 500.6L82.75 500.6L82.75 500.6Z" fill="#d682cf" fill-opacity="0.45" stroke="#b02c9c" stroke-opacity="0.6" stroke-width="0.9"/>
<path d="M68.25 500.6L68.25 500.6L68.5 500.6L68.75 500.59L69 500.59L69.25 500.59L69.5 500.58L69.75 500.57L70 500.56L70.25 500.54L70.5 500.52L70.75 500.48L71 500.44L71.25 500.39L71.5 500.32L71.75 500.24L72 500.13L72.25 500L72.5 499.85L72.75 499.67L73 499.46L73.25 499.22L73.5 498.96L73.75 498.67L74 498.35L74.25 498.02L74.5 497.67L74.75 497.32L75 496.98L75.25 496.65L75.5 496.35L75.75 496.08L76 495.86L76.25 495.7L76.5 495.59L76.75 495.54L77 495.56L77.25 495.64L77.5 495.79L77.75 495.99L78 496.24L78.25 496.53L78.5 496.85L78.75 497.18L79 497.53L79.25 497.88L79.5 498.22L79.75 498.54L80 498.84L80.25 499.12L80.5 499.37L80.75 499.59L81 499.78L81.25 499.95L81.5 500.08L81.75 500.2L82 500.29L82.25 500.37L82.5 500.42L82.75 500.47L83 500.5L83.25 500.53L83.5 500.55L83.75 500.57L84 500.58L84.25 500.58L84.5 500.59L84.75 500.59L85 500.6L85.25 500.6L85.5 500.6L85.5 500.6Z" fill="#d682cf" fill-opacity="0.45" stroke="#b02c9c" stroke-opacity="0.6" stroke-width="0.9"/>
<path d="M72.25 500.6L72.25 500.59L72.5 500.59L72.75 500.59L73 500.58L73.25 500.57L73.5 500.55L73.75 500.53L74 500.51L74.25 500.47L74.5 500.41L74.75 500.34L75 500.24L75.25 500.12L75.5 499.96L75.75 499.76L76 499.51L76.25 499.21L76.5 498.84L76.75 498.41L77 497.9L77.25 497.32L77.5 496.67L77.75 495.94L78 495.16L78.25 494.32L78.5 493.44L78.75 492.55L79 491.66L79.25 490.8L79.5 490L79.75 489.28L80 488.66L80.25 488.17L80.5 487.83L80.75 487.65L81 487.63L81.25 487.78L81.5 488.09L81.75 488.55L82 489.15L82.25 489.85L82.5 490.64L82.75 491.49L83 492.37L83.25 493.26L83.5 494.15L83.75 494.99L84 495.79L84.25 496.53L84.5 497.2L84.75 497.79L85 498.32L85.25 498.76L85.5 499.14L85.75 499.46L86 499.72L86.25 499.93L86.5 500.09L86.75 500.22L87 500.32L87.25 500.4L87.5 500.46L87.75 500.5L88 500.53L88.25 500.55L88.5 500.57L88.75 500.58L89 500.59L89.25 500.59L89.5 500.59L89.5 500.6Z" fill="#d682cf" fill-opacity="0.45" stroke="#b02c9c" stroke-opacity="0.6" stroke-width="0.9"/>
<path d="M77.5 500.6L77.5 500.59L77.75 500.58L78 500.57L78.25 500.56L78.5 500.54L78.75 500.5L79 500.46L79.25 500.39L79.5 500.3L79.75 500.18L80 500.02L80.25 499.8L80.5 499.52L80.75 499.16L81 498.7L81.25 498.14L81.5 497.46L81.75 496.65L82 495.7L82.25 494.61L82.5 493.37L82.75 492.02L83 490.55L83.25 489L83.5 487.4L83.75 485.8L84 484.25L84.25 482.79L84.5 481.48L84.75 480.37L85 479.5L85.25 478.91L85.5 478.63L85.75 478.66L86 479L86.25 479.65L86.5 480.57L86.75 481.73L87 483.07L87.25 484.55L87.5 486.12L87.75 487.72L88 489.31L88.25 490.85L88.5 492.3L88.75 493.63L89 494.84L89.25 495.9L89.5 496.82L89.75 497.61L90 498.26L90.25 498.8L90.5 499.24L90.75 499.58L91 499.85L91.25 500.06L91.5 500.21L91.75 500.33L92 500.41L92.25 500.47L92.5 500.51L92.75 500.54L93 500.56L93.25 500.58L93.5 500.58L93.75 500.59L93.75 500.6Z" fill="#d682cf" fill-opacity="0.45" stroke="#b02c9c" stroke-opacity="0.6" stroke-width="0.9"/>
<path d="M82.25 500.6L82.25 500.59L82.5 500.58L82.75 500.58L83 500.56L83.25 500.54L83.5 500.51L83.75 500.46L84 500.39L84.25 500.3L84.5 500.16L84.75 499.98L85 499.73L85.25 499.41L85.5 498.98L85.75 498.44L86 497.77L86.25 496.94L86.5 495.94L86.75 494.76L87 493.39L87.25 491.84L87.5 490.11L87.75 488.24L88 486.25L88.25 484.2L88.5 482.14L88.75 480.14L89 478.26L89.25 476.59L89.5 475.18L89.75 474.1L90 473.4L90.25 473.11L90.5 473.23L90.75 473.78L91 474.71L91.25 475.99L91.5 477.56L91.75 479.37L92 481.33L92.25 483.37L92.5 485.44L92.75 487.46L93 489.38L93.25 491.17L93.5 492.79L93.75 494.24L94 495.49L94.25 496.56L94.5 497.46L94.75 498.19L95 498.78L95.25 499.25L95.5 499.61L95.75 499.89L96 500.09L96.25 500.25L96.5 500.36L96.75 500.44L97 500.49L97.25 500.53L97.5 500.55L97.75 500.57L98 500.58L98.25 500.59L98.25 500.6Z" fill="#d682cf" fill-opacity="0.45" stroke="#b02c9c" stroke-opacity="0.6" stroke-width="0.9"/>
<path d="M87.5 500.6L87.5 500.59L87.75 500.58L88 500.56L88.25 500.54L88.5 500.51L88.75 500.46L89 500.39L89.25 500.3L89.5 500.16L89.75 499.97L90 499.72L90.25 499.38L90.5 498.94L90.75 498.37L91 497.65L91.25 496.76L91.5 495.69L91.75 494.4L92 492.9L92.25 491.19L92.5 489.26L92.75 487.15L93 484.89L93.25 482.53L93.5 480.14L93.75 477.78L94 475.53L94.25 473.49L94.5 471.72L94.75 470.32L95 469.32L95.25 468.79L95.5 468.74L95.75 469.18L96 470.08L96.25 471.41L96.5 473.11L96.75 475.11L97 477.32L97.25 479.66L97.5 482.05L97.75 484.43L98 486.71L98.25 488.85L98.5 490.82L98.75 492.58L99 494.12L99.25 495.45L99.5 496.56L99.75 497.49L100 498.24L100.25 498.83L100.5 499.3L100.75 499.66L101 499.93L101.25 500.13L101.5 500.27L101.75 500.38L102 500.45L102.25 500.5L102.5 500.54L102.75 500.56L103 500.57L103.25 500.58L103.25 500.6Z" fill="#d682cf" fill-opacity="0.45" stroke="#b02c9c" stroke-opacity="0.6" stroke-width="0.9"/>
<path d="M92.5 500.6L92.5 500.59L92.75 500.58L93 500.56L93.25 500.54L93.5 500.51L93.75 500.47L94 500.4L94.25 500.31L94.5 500.17L94.75 499.99L95 499.73L95.25 499.39L95.5 498.95L95.75 498.37L96 497.64L96.25 496.72L96.5 495.6L96.75 494.26L97 492.68L97.25 490.85L97.5 488.78L97.75 486.5L98 484.03L98.25 481.42L98.5 478.74L98.75 476.07L99 473.49L99.25 471.1L99.5 468.99L99.75 467.24L100 465.93L100.25 465.12L100.5 464.85L100.75 465.12L101 465.93L101.25 467.24L101.5 468.99L101.75 471.1L102 473.49L102.25 476.07L102.5 478.74L102.75 481.42L103 484.03L103.25 486.5L103.5 488.78L103.75 490.85L104 492.68L104.25 494.26L104.5 495.6L104.75 496.72L105 497.64L105.25 498.37L105.5 498.95L105.75 499.39L106 499.73L106.25 499.99L106.5 500.17L106.75 500.31L107 500.4L107.25 500.47L107.5 500.51L107.75 500.54L108 500.56L108.25 500.58L108.5 500.59L108.5 500.6Z" fill="#d682cf" fill-opacity="0.45" stroke="#b02c9c" stroke-opacity="0.6" stroke-width="0.9"/>
<path d="M98 500.6L98 500.6L98.25 500.59L98.5 500.59L98.75 500.58L99 500.57L99.25 500.55L99.5 500.52L99.75 500.48L100 500.41L100.25 500.31L100.5 500.16L100.75 499.95L101 499.66L101.25 499.26L101.5 498.72L101.75 498L102 497.05L102.25 495.83L102.5 494.3L102.75 492.4L103 490.08L103.25 487.32L103.5 484.09L103.75 480.4L104 476.25L104.25 471.7L104.5 466.82L104.75 461.73L105 456.56L105.25 451.46L105.5 446.61L105.75 442.18L106 438.37L106.25 435.32L106.5 433.17L106.75 432.02L107 431.91L107.25 432.86L107.5 434.81L107.75 437.69L108 441.37L108.25 445.68L108.5 450.46L108.75 455.53L109 460.7L109.25 465.82L109.5 470.75L109.75 475.37L110 479.6L110.25 483.39L110.5 486.71L110.75 489.57L111 491.97L111.25 493.95L111.5 495.55L111.75 496.83L112 497.83L112.25 498.59L112.5 499.17L112.75 499.59L113 499.9L113.25 500.13L113.5 500.28L113.75 500.39L114 500.46L114.25 500.51L114.5 500.54L114.75 500.57L115 500.58L115.25 500.59L115.5 500.59L115.75 500.6L115.75 500.6Z" fill="#f4868a" fill-opacity="0.92"/>
</g>
<path d="M51.5 500.6L51.75 500.6L52 500.6L52.25 500.6L52.5 500.6L52.75 500.6L53 500.6L53.25 500.6L53.5 500.6L53.75 500.6L54 500.6L54.25 500.6L54.5 500.6L54.75 500.6L55 500.6L55.25 500.6L55.5 500.6L55.75 500.6L56 500.6L56.25 500.6L56.5 500.6L56.75 500.6L57 500.6L57.25 500.6L57.5 500.6L57.75 500.6L58 500.6L58.25 500.6L58.5 500.6L58.75 500.6L59 500.6L59.25 500.6L59.5 500.6L59.75 500.6L60 500.6L60.25 500.6L60.5 500.6L60.75 500.6L61 500.6L61.25 500.6L61.5 500.6L61.75 500.6L62 500.6L62.25 500.6L62.5 500.6L62.75 500.6L63 500.6L63.25 500.6L63.5 500.6L63.75 500.6L64 500.6L64.25 500.6L64.5 500.6L64.75 500.6L65 500.6L65.25 500.6L65.5 500.6L65.75 500.59L66 500.59L66.25 500.59L66.5 500.59L66.75 500.58L67 500.58L67.25 500.57L67.5 500.57L67.75 500.56L68 500.55L68.25 500.53L68.5 500.52L68.75 500.5L69 500.47L69.25 500.45L69.5 500.41L69.75 500.37L70 500.32L70.25 500.27L70.5 500.2L70.75 500.13L71 500.05L71.25 499.95L71.5 499.84L71.75 499.72L72 499.58L72.25 499.43L72.5 499.26L72.75 499.08L73 498.89L73.25 498.68L73.5 498.47L73.75 498.27L74 498.06L74.25 497.83L74.5 497.57L74.75 497.29L75 496.97L75.25 496.63L75.5 496.26L75.75 495.86L76 495.45L76.25 495.04L76.5 494.64L76.75 494.28L77 494.07L77.25 493.92L77.5 493.78L77.75 493.61L78 493.38L78.25 493.1L78.5 492.74L78.75 492.3L79 491.78L79.25 491.19L79.5 490.53L79.75 489.83L80 489.11L80.25 488.4L80.5 487.74L80.75 487.21L81 486.99L81.25 487.14L81.5 487.41L81.75 487.71L82 487.98L82.25 488.17L82.5 488.23L82.75 488.15L83 487.9L83.25 487.46L83.5 486.84L83.75 486.03L84 485.07L84.25 483.97L84.5 482.78L84.75 481.55L85 480.37L85.25 479.31L85.5 478.53L85.75 478.5L86 479.08L86.25 479.87L86.5 480.74L86.75 481.58L87 482.31L87.25 482.86L87.5 483.18L87.75 483.23L88 483.01L88.25 482.5L88.5 481.71L88.75 480.67L89 479.44L89.25 478.07L89.5 476.66L89.75 475.3L90 474.15L90.25 473.42L90.5 473.83L90.75 474.89L91 476.22L91.25 477.64L91.5 479.04L91.75 480.31L92 481.36L92.25 482.14L92.5 482.6L92.75 482.7L93 482.44L93.25 481.81L93.5 480.84L93.75 479.56L94 478.03L94.25 476.32L94.5 474.52L94.75 472.75L95 471.16L95.25 469.96L95.5 469.74L95.75 470.69L96 472.07L96.25 473.66L96.5 475.28L96.75 476.81L97 478.15L97.25 479.21L97.5 479.93L97.75 480.27L98 480.2L98.25 479.73L98.5 478.86L98.75 477.64L99 476.12L99.25 474.37L99.5 472.5L99.75 470.64L100 468.94L100.25 467.61L100.5 467.01L100.75 468.06L101 469.84L101.25 472L101.5 474.34L101.75 476.68L102 478.89L102.25 480.83L102.5 482.39L102.75 483.47L103 483.97L103.25 483.81L103.5 482.93L103.75 481.27L104 478.83L104.25 475.61L104.5 471.68L104.75 467.16L105 462.19L105.25 456.98L105.5 451.78L105.75 446.85L106 442.48L106.25 438.91L106.5 436.37L106.75 435.03L107 434.98L107.25 436.23L107.5 438.72L107.75 442.3L108 446.78L108.25 451.91L108.5 457.44L108.75 463.12L109 468.7L109.25 474L109.5 478.87L109.75 483.2L110 486.96L110.25 490.11L110.5 492.7L110.75 494.77L111 496.39L111.25 497.62L111.5 498.53L111.75 499.19L112 499.66L112.25 499.99L112.5 500.21L112.75 500.35L113 500.45L113.25 500.51L113.5 500.55L113.75 500.57L114 500.58L114.25 500.59L114.5 500.59L114.75 500.6L115 500.6L115.25 500.6L115.5 500.6L115.75 500.6L116 500.6L116.25 500.6L116.5 500.6L116.75 500.6L117 500.6L117.25 500.6L117.5 500.6L117.75 500.6L118 500.6L118.25 500.6L118.5 500.6L118.75 500.6L119 500.6L119.25 500.6L119.5 500.6L119.75 500.6L120 500.6L120.25 500.6L120.5 500.6L120.75 500.6L121 500.6L121.25 500.6L121.5 500.6L121.75 500.6L122 500.6L122.25 500.6L122.5 500.6L122.75 500.6L123 500.6L123.25 500.6L123.5 500.6L123.75 500.6L124 500.6L124.25 500.6L124.5 500.6L124.75 500.6L125 500.6L125.25 500.6L125.5 500.6L125.75 500.6" fill="none" stroke="#000" stroke-width="1.55" stroke-linejoin="round"/>
<line x1="51.5" y1="500.8" x2="51.5" y2="502.4" stroke="#000" stroke-width="0.6" stroke-linecap="butt"/>
<line x1="53.6" y1="500.8" x2="53.6" y2="502.4" stroke="#000" stroke-width="0.6" stroke-linecap="butt"/>
<line x1="55.7" y1="500.8" x2="55.7" y2="502.4" stroke="#000" stroke-width="0.6" stroke-linecap="butt"/>
<line x1="57.8" y1="500.8" x2="57.8" y2="502.4" stroke="#000" stroke-width="0.6" stroke-linecap="butt"/>
<line x1="59.9" y1="500.8" x2="59.9" y2="502.4" stroke="#000" stroke-width="0.6" stroke-linecap="butt"/>
<line x1="62" y1="500.8" x2="62" y2="502.4" stroke="#000" stroke-width="0.6" stroke-linecap="butt"/>
<line x1="64.1" y1="500.8" x2="64.1" y2="502.4" stroke="#000" stroke-width="0.6" stroke-linecap="butt"/>
<line x1="66.2" y1="500.8" x2="66.2" y2="502.4" stroke="#000" stroke-width="0.6" stroke-linecap="butt"/>
<line x1="68.3" y1="500.8" x2="68.3" y2="502.4" stroke="#000" stroke-width="0.6" stroke-linecap="butt"/>
<line x1="70.4" y1="500.8" x2="70.4" y2="502.4" stroke="#000" stroke-width="0.6" stroke-linecap="butt"/>
<line x1="72.5" y1="500.8" x2="72.5" y2="503.8" stroke="#000" stroke-width="0.9" stroke-linecap="butt"/>
<line x1="78.07" y1="500.8" x2="78.07" y2="502.5" stroke="#000" stroke-width="0.65" stroke-linecap="butt"/>
<line x1="81.33" y1="500.8" x2="81.33" y2="502.5" stroke="#000" stroke-width="0.65" stroke-linecap="butt"/>
<line x1="83.64" y1="500.8" x2="83.64" y2="502.5" stroke="#000" stroke-width="0.65" stroke-linecap="butt"/>
<line x1="85.43" y1="500.8" x2="85.43" y2="502.5" stroke="#000" stroke-width="0.65" stroke-linecap="butt"/>
<line x1="86.9" y1="500.8" x2="86.9" y2="502.5" stroke="#000" stroke-width="0.65" stroke-linecap="butt"/>
<line x1="88.13" y1="500.8" x2="88.13" y2="502.5" stroke="#000" stroke-width="0.65" stroke-linecap="butt"/>
<line x1="89.21" y1="500.8" x2="89.21" y2="502.5" stroke="#000" stroke-width="0.65" stroke-linecap="butt"/>
<line x1="90.15" y1="500.8" x2="90.15" y2="502.5" stroke="#000" stroke-width="0.65" stroke-linecap="butt"/>
<line x1="91" y1="500.8" x2="91" y2="503.8" stroke="#000" stroke-width="0.9" stroke-linecap="butt"/>
<line x1="95.52" y1="500.8" x2="95.52" y2="502.5" stroke="#000" stroke-width="0.65" stroke-linecap="butt"/>
<line x1="98.16" y1="500.8" x2="98.16" y2="502.5" stroke="#000" stroke-width="0.65" stroke-linecap="butt"/>
<line x1="100.03" y1="500.8" x2="100.03" y2="502.5" stroke="#000" stroke-width="0.65" stroke-linecap="butt"/>
<line x1="101.48" y1="500.8" x2="101.48" y2="502.5" stroke="#000" stroke-width="0.65" stroke-linecap="butt"/>
<line x1="102.67" y1="500.8" x2="102.67" y2="502.5" stroke="#000" stroke-width="0.65" stroke-linecap="butt"/>
<line x1="103.68" y1="500.8" x2="103.68" y2="502.5" stroke="#000" stroke-width="0.65" stroke-linecap="butt"/>
<line x1="104.55" y1="500.8" x2="104.55" y2="502.5" stroke="#000" stroke-width="0.65" stroke-linecap="butt"/>
<line x1="105.31" y1="500.8" x2="105.31" y2="502.5" stroke="#000" stroke-width="0.65" stroke-linecap="butt"/>
<line x1="106" y1="500.8" x2="106" y2="503.8" stroke="#000" stroke-width="0.9" stroke-linecap="butt"/>
<line x1="110.52" y1="500.8" x2="110.52" y2="502.5" stroke="#000" stroke-width="0.65" stroke-linecap="butt"/>
<line x1="113.16" y1="500.8" x2="113.16" y2="502.5" stroke="#000" stroke-width="0.65" stroke-linecap="butt"/>
<line x1="115.03" y1="500.8" x2="115.03" y2="502.5" stroke="#000" stroke-width="0.65" stroke-linecap="butt"/>
<line x1="116.48" y1="500.8" x2="116.48" y2="502.5" stroke="#000" stroke-width="0.65" stroke-linecap="butt"/>
<line x1="117.67" y1="500.8" x2="117.67" y2="502.5" stroke="#000" stroke-width="0.65" stroke-linecap="butt"/>
<line x1="118.68" y1="500.8" x2="118.68" y2="502.5" stroke="#000" stroke-width="0.65" stroke-linecap="butt"/>
<line x1="119.55" y1="500.8" x2="119.55" y2="502.5" stroke="#000" stroke-width="0.65" stroke-linecap="butt"/>
<line x1="120.31" y1="500.8" x2="120.31" y2="502.5" stroke="#000" stroke-width="0.65" stroke-linecap="butt"/>
<line x1="121" y1="500.8" x2="121" y2="503.8" stroke="#000" stroke-width="0.9" stroke-linecap="butt"/>
<text font-size="8.3" text-anchor="middle" font-weight="normal" fill="#1a1a1a" transform="translate(58.1 513.5) scale(0.92 1)">0</text>
<text font-size="8.3" text-anchor="middle" font-weight="normal" fill="#1a1a1a" transform="translate(72.1 513.5) scale(0.92 1)">10<tspan font-size="4.8" dy="-3.2">3</tspan></text>
<text font-size="8.3" text-anchor="middle" font-weight="normal" fill="#1a1a1a" transform="translate(91.4 513.5) scale(0.92 1)">10<tspan font-size="4.8" dy="-3.2">4</tspan></text>
<text font-size="8.3" text-anchor="middle" font-weight="normal" fill="#1a1a1a" transform="translate(105.6 513.5) scale(0.92 1)">10<tspan font-size="4.8" dy="-3.2">5</tspan></text>
<text font-size="8.3" text-anchor="middle" font-weight="normal" fill="#1a1a1a" transform="translate(120.6 513.5) scale(0.92 1)">10<tspan font-size="4.8" dy="-3.2">6</tspan></text>
<rect x="148.2" y="430.7" width="75.4" height="70.1" fill="none" stroke="#000" stroke-width="1.45"/>
<line x1="144.6" y1="500.8" x2="148.2" y2="500.8" stroke="#000" stroke-width="1.0" stroke-linecap="butt"/>
<line x1="145.9" y1="497.14" x2="148.2" y2="497.14" stroke="#000" stroke-width="0.9" stroke-linecap="butt"/>
<line x1="145.9" y1="493.49" x2="148.2" y2="493.49" stroke="#000" stroke-width="0.9" stroke-linecap="butt"/>
<line x1="145.9" y1="489.83" x2="148.2" y2="489.83" stroke="#000" stroke-width="0.9" stroke-linecap="butt"/>
<line x1="144.6" y1="486.18" x2="148.2" y2="486.18" stroke="#000" stroke-width="1.0" stroke-linecap="butt"/>
<line x1="145.9" y1="482.52" x2="148.2" y2="482.52" stroke="#000" stroke-width="0.9" stroke-linecap="butt"/>
<line x1="145.9" y1="478.86" x2="148.2" y2="478.86" stroke="#000" stroke-width="0.9" stroke-linecap="butt"/>
<line x1="145.9" y1="475.21" x2="148.2" y2="475.21" stroke="#000" stroke-width="0.9" stroke-linecap="butt"/>
<line x1="144.6" y1="471.55" x2="148.2" y2="471.55" stroke="#000" stroke-width="1.0" stroke-linecap="butt"/>
<line x1="145.9" y1="467.89" x2="148.2" y2="467.89" stroke="#000" stroke-width="0.9" stroke-linecap="butt"/>
<line x1="145.9" y1="464.24" x2="148.2" y2="464.24" stroke="#000" stroke-width="0.9" stroke-linecap="butt"/>
<line x1="145.9" y1="460.58" x2="148.2" y2="460.58" stroke="#000" stroke-width="0.9" stroke-linecap="butt"/>
<line x1="144.6" y1="456.93" x2="148.2" y2="456.93" stroke="#000" stroke-width="1.0" stroke-linecap="butt"/>
<line x1="145.9" y1="453.27" x2="148.2" y2="453.27" stroke="#000" stroke-width="0.9" stroke-linecap="butt"/>
<line x1="145.9" y1="449.61" x2="148.2" y2="449.61" stroke="#000" stroke-width="0.9" stroke-linecap="butt"/>
<line x1="145.9" y1="445.96" x2="148.2" y2="445.96" stroke="#000" stroke-width="0.9" stroke-linecap="butt"/>
<line x1="144.6" y1="442.3" x2="148.2" y2="442.3" stroke="#000" stroke-width="1.0" stroke-linecap="butt"/>
<line x1="145.9" y1="438.64" x2="148.2" y2="438.64" stroke="#000" stroke-width="0.9" stroke-linecap="butt"/>
<line x1="145.9" y1="434.99" x2="148.2" y2="434.99" stroke="#000" stroke-width="0.9" stroke-linecap="butt"/>
<text font-size="8.5" text-anchor="end" font-weight="normal" fill="#1a1a1a" transform="translate(143.5 503.1) scale(0.92 1)">0</text>
<text font-size="8.5" text-anchor="end" font-weight="normal" fill="#1a1a1a" transform="translate(143.5 488.5) scale(0.92 1)">100</text>
<text font-size="8.5" text-anchor="end" font-weight="normal" fill="#1a1a1a" transform="translate(143.5 473.9) scale(0.92 1)">200</text>
<text font-size="8.5" text-anchor="end" font-weight="normal" fill="#1a1a1a" transform="translate(143.5 459.3) scale(0.92 1)">300</text>
<text font-size="8.5" text-anchor="end" font-weight="normal" fill="#1a1a1a" transform="translate(143.5 444.6) scale(0.92 1)">400</text>
<text font-size="10" text-anchor="middle" font-weight="normal" fill="#1a1a1a" transform="translate(188.5 426.9) scale(0.985 1)">Teff + Treg</text>
<g clip-path="url(#c4)">
<rect x="149.2" y="420.6" width="73.4" height="80" fill="#f2d6ef"/>
<path d="M177.7 500.6L177.7 500.6L177.95 500.6L178.2 500.6L178.45 500.6L178.7 500.6L178.95 500.59L179.2 500.59L179.45 500.58L179.7 500.57L179.95 500.55L180.2 500.53L180.45 500.5L180.7 500.46L180.95 500.41L181.2 500.34L181.45 500.27L181.7 500.19L181.95 500.1L182.2 500.01L182.45 499.92L182.7 499.84L182.95 499.78L183.2 499.74L183.45 499.72L183.7 499.73L183.95 499.76L184.2 499.81L184.45 499.89L184.7 499.97L184.95 500.06L185.2 500.15L185.45 500.24L185.7 500.31L185.95 500.38L186.2 500.44L186.45 500.48L186.7 500.52L186.95 500.54L187.2 500.56L187.45 500.58L187.7 500.59L187.95 500.59L188.2 500.59L188.45 500.6L188.7 500.6L188.95 500.6L189.2 500.6L189.2 500.6Z" fill="#d682cf" fill-opacity="0.45" stroke="#b02c9c" stroke-opacity="0.6" stroke-width="0.9"/>
<path d="M178.45 500.6L178.45 500.6L178.7 500.6L178.95 500.6L179.2 500.6L179.45 500.6L179.7 500.6L179.95 500.6L180.2 500.6L180.45 500.6L180.7 500.59L180.95 500.59L181.2 500.58L181.45 500.56L181.7 500.54L181.95 500.5L182.2 500.43L182.45 500.33L182.7 500.19L182.95 499.98L183.2 499.69L183.45 499.31L183.7 498.82L183.95 498.21L184.2 497.46L184.45 496.6L184.7 495.63L184.95 494.58L185.2 493.52L185.45 492.48L185.7 491.54L185.95 490.75L186.2 490.18L186.45 489.87L186.7 489.83L186.95 489.97L187.2 490.26L187.45 490.69L187.7 491.23L187.95 491.87L188.2 492.59L188.45 493.35L188.7 494.13L188.95 494.91L189.2 495.67L189.45 496.39L189.7 497.06L189.95 497.66L190.2 498.2L190.45 498.66L190.7 499.06L190.95 499.4L191.2 499.67L191.45 499.89L191.7 500.07L191.95 500.21L192.2 500.32L192.45 500.4L192.7 500.46L192.95 500.5L193.2 500.53L193.45 500.55L193.7 500.57L193.95 500.58L194.2 500.59L194.45 500.59L194.7 500.59L194.7 500.6Z" fill="#d682cf" fill-opacity="0.45" stroke="#b02c9c" stroke-opacity="0.6" stroke-width="0.9"/>
<path d="M184.95 500.6L184.95 500.6L185.2 500.6L185.45 500.59L185.7 500.59L185.95 500.58L186.2 500.57L186.45 500.56L186.7 500.54L186.95 500.51L187.2 500.47L187.45 500.41L187.7 500.34L187.95 500.24L188.2 500.12L188.45 499.96L188.7 499.77L188.95 499.54L189.2 499.27L189.45 498.95L189.7 498.59L189.95 498.19L190.2 497.75L190.45 497.29L190.7 496.83L190.95 496.36L191.2 495.92L191.45 495.51L191.7 495.16L191.95 494.88L192.2 494.68L192.45 494.57L192.7 494.56L192.95 494.65L193.2 494.83L193.45 495.1L193.7 495.44L193.95 495.83L194.2 496.27L194.45 496.73L194.7 497.2L194.95 497.66L195.2 498.1L195.45 498.51L195.7 498.88L195.95 499.21L196.2 499.49L196.45 499.73L196.7 499.93L196.95 500.09L197.2 500.22L197.45 500.32L197.7 500.4L197.95 500.46L198.2 500.5L198.45 500.53L198.7 500.55L198.95 500.57L199.2 500.58L199.45 500.59L199.7 500.59L199.95 500.59L200.2 500.6L200.2 500.6Z" fill="#d682cf" fill-opacity="0.45" stroke="#b02c9c" stroke-opacity="0.6" stroke-width="0.9"/>
<path d="M187.45 500.6L187.45 500.59L187.7 500.59L187.95 500.59L188.2 500.58L188.45 500.57L188.7 500.55L188.95 500.53L189.2 500.5L189.45 500.46L189.7 500.4L189.95 500.32L190.2 500.23L190.45 500.1L190.7 499.94L190.95 499.73L191.2 499.48L191.45 499.18L191.7 498.81L191.95 498.38L192.2 497.88L192.45 497.31L192.7 496.67L192.95 495.97L193.2 495.22L193.45 494.42L193.7 493.6L193.95 492.76L194.2 491.94L194.45 491.16L194.7 490.44L194.95 489.8L195.2 489.27L195.45 488.87L195.7 488.61L195.95 488.5L196.2 488.55L196.45 488.75L196.7 489.1L196.95 489.58L197.2 490.17L197.45 490.86L197.7 491.62L197.95 492.43L198.2 493.26L198.45 494.09L198.7 494.9L198.95 495.68L199.2 496.4L199.45 497.06L199.7 497.66L199.95 498.19L200.2 498.65L200.45 499.04L200.7 499.37L200.95 499.64L201.2 499.86L201.45 500.04L201.7 500.18L201.95 500.29L202.2 500.37L202.45 500.44L202.7 500.48L202.95 500.52L203.2 500.54L203.45 500.56L203.7 500.57L203.95 500.58L204.2 500.59L204.45 500.59L204.7 500.6L204.7 500.6Z" fill="#d682cf" fill-opacity="0.45" stroke="#b02c9c" stroke-opacity="0.6" stroke-width="0.9"/>
<path d="M189.95 500.6L189.95 500.59L190.2 500.59L190.45 500.58L190.7 500.57L190.95 500.56L191.2 500.54L191.45 500.51L191.7 500.48L191.95 500.43L192.2 500.37L192.45 500.29L192.7 500.19L192.95 500.05L193.2 499.89L193.45 499.68L193.7 499.42L193.95 499.1L194.2 498.71L194.45 498.26L194.7 497.72L194.95 497.1L195.2 496.39L195.45 495.58L195.7 494.69L195.95 493.71L196.2 492.64L196.45 491.51L196.7 490.33L196.95 489.11L197.2 487.88L197.45 486.67L197.7 485.5L197.95 484.41L198.2 483.41L198.45 482.55L198.7 481.83L198.95 481.3L199.2 480.95L199.45 480.8L199.7 480.87L199.95 481.13L200.2 481.6L200.45 482.24L200.7 483.05L200.95 484L201.2 485.05L201.45 486.2L201.7 487.4L201.95 488.62L202.2 489.84L202.45 491.04L202.7 492.2L202.95 493.29L203.2 494.31L203.45 495.24L203.7 496.08L203.95 496.83L204.2 497.48L204.45 498.05L204.7 498.54L204.95 498.95L205.2 499.3L205.45 499.58L205.7 499.81L205.95 499.99L206.2 500.14L206.45 500.25L206.7 500.34L206.95 500.41L207.2 500.46L207.45 500.5L207.7 500.53L207.95 500.55L208.2 500.56L208.45 500.58L208.7 500.58L208.95 500.59L209.2 500.59L209.2 500.6Z" fill="#d682cf" fill-opacity="0.45" stroke="#b02c9c" stroke-opacity="0.6" stroke-width="0.9"/>
<path d="M196.2 500.6L196.2 500.59L196.45 500.59L196.7 500.58L196.95 500.57L197.2 500.54L197.45 500.5L197.7 500.44L197.95 500.35L198.2 500.21L198.45 500L198.7 499.72L198.95 499.33L199.2 498.82L199.45 498.16L199.7 497.34L199.95 496.35L200.2 495.2L200.45 493.9L200.7 492.5L200.95 491.03L201.2 489.58L201.45 488.22L201.7 487.03L201.95 486.1L202.2 485.47L202.45 485.21L202.7 485.32L202.95 485.81L203.2 486.62L203.45 487.72L203.7 489.02L203.95 490.45L204.2 491.91L204.45 493.35L204.7 494.7L204.95 495.91L205.2 496.97L205.45 497.85L205.7 498.58L205.95 499.14L206.2 499.58L206.45 499.9L206.7 500.13L206.95 500.3L207.2 500.41L207.45 500.48L207.7 500.53L207.95 500.56L208.2 500.58L208.45 500.59L208.7 500.59L208.7 500.6Z" fill="#d682cf" fill-opacity="0.45" stroke="#b02c9c" stroke-opacity="0.6" stroke-width="0.9"/>
<path d="M196.7 500.6L196.7 500.6L196.95 500.6L197.2 500.6L197.45 500.6L197.7 500.6L197.95 500.6L198.2 500.6L198.45 500.6L198.7 500.6L198.95 500.6L199.2 500.6L199.45 500.59L199.7 500.59L199.95 500.57L200.2 500.54L200.45 500.47L200.7 500.34L200.95 500.11L201.2 499.71L201.45 499.05L201.7 497.99L201.95 496.38L202.2 494.03L202.45 490.78L202.7 486.48L202.95 481.08L203.2 474.64L203.45 467.39L203.7 459.76L203.95 452.29L204.2 445.64L204.45 440.48L204.7 437.35L204.95 436.57L205.2 437.4L205.45 439.35L205.7 442.33L205.95 446.17L206.2 450.7L206.45 455.68L206.7 460.91L206.95 466.17L207.2 471.28L207.45 476.08L207.7 480.48L207.95 484.39L208.2 487.78L208.45 490.64L208.7 493.01L208.95 494.92L209.2 496.43L209.45 497.59L209.7 498.47L209.95 499.12L210.2 499.59L210.45 499.92L210.7 500.15L210.95 500.31L211.2 500.42L211.45 500.49L211.7 500.53L211.95 500.56L212.2 500.58L212.45 500.59L212.7 500.59L212.95 500.6L212.95 500.6Z" fill="#f4868a" fill-opacity="0.92"/>
</g>
<path d="M149.2 500.6L149.45 500.6L149.7 500.6L149.95 500.6L150.2 500.6L150.45 500.6L150.7 500.6L150.95 500.6L151.2 500.6L151.45 500.6L151.7 500.6L151.95 500.6L152.2 500.6L152.45 500.6L152.7 500.6L152.95 500.6L153.2 500.6L153.45 500.6L153.7 500.6L153.95 500.6L154.2 500.6L154.45 500.6L154.7 500.6L154.95 500.6L155.2 500.6L155.45 500.6L155.7 500.6L155.95 500.6L156.2 500.6L156.45 500.6L156.7 500.6L156.95 500.6L157.2 500.6L157.45 500.6L157.7 500.6L157.95 500.6L158.2 500.6L158.45 500.6L158.7 500.6L158.95 500.6L159.2 500.6L159.45 500.6L159.7 500.6L159.95 500.6L160.2 500.6L160.45 500.6L160.7 500.6L160.95 500.6L161.2 500.6L161.45 500.6L161.7 500.6L161.95 500.6L162.2 500.6L162.45 500.6L162.7 500.6L162.95 500.6L163.2 500.6L163.45 500.6L163.7 500.6L163.95 500.6L164.2 500.6L164.45 500.6L164.7 500.6L164.95 500.6L165.2 500.6L165.45 500.6L165.7 500.6L165.95 500.6L166.2 500.6L166.45 500.6L166.7 500.6L166.95 500.6L167.2 500.6L167.45 500.6L167.7 500.6L167.95 500.6L168.2 500.6L168.45 500.6L168.7 500.6L168.95 500.6L169.2 500.6L169.45 500.6L169.7 500.6L169.95 500.6L170.2 500.6L170.45 500.6L170.7 500.6L170.95 500.6L171.2 500.6L171.45 500.6L171.7 500.6L171.95 500.6L172.2 500.6L172.45 500.6L172.7 500.6L172.95 500.6L173.2 500.6L173.45 500.6L173.7 500.6L173.95 500.6L174.2 500.6L174.45 500.6L174.7 500.6L174.95 500.6L175.2 500.6L175.45 500.6L175.7 500.6L175.95 500.6L176.2 500.6L176.45 500.6L176.7 500.6L176.95 500.6L177.2 500.6L177.45 500.6L177.7 500.6L177.95 500.6L178.2 500.6L178.45 500.6L178.7 500.59L178.95 500.59L179.2 500.59L179.45 500.58L179.7 500.57L179.95 500.56L180.2 500.55L180.45 500.52L180.7 500.49L180.95 500.45L181.2 500.4L181.45 500.33L181.7 500.25L181.95 500.14L182.2 500.02L182.45 499.86L182.7 499.68L182.95 499.46L183.2 499.21L183.45 498.93L183.7 498.65L183.95 498.32L184.2 497.92L184.45 497.42L184.7 496.8L184.95 496.07L185.2 495.23L185.45 494.3L185.7 493.32L185.95 492.36L186.2 491.49L186.45 490.85L186.7 490.73L186.95 491.09L187.2 491.62L187.45 492.24L187.7 492.92L187.95 493.61L188.2 494.28L188.45 494.9L188.7 495.46L188.95 495.93L189.2 496.32L189.45 496.6L189.7 496.77L189.95 496.83L190.2 496.79L190.45 496.63L190.7 496.38L190.95 496.02L191.2 495.57L191.45 495.05L191.7 494.46L191.95 493.83L192.2 493.18L192.45 492.56L192.7 492.07L192.95 491.76L193.2 491.46L193.45 491.14L193.7 490.77L193.95 490.32L194.2 489.77L194.45 489.13L194.7 488.4L194.95 487.59L195.2 486.73L195.45 485.83L195.7 484.96L195.95 484.18L196.2 483.77L196.45 483.55L196.7 483.38L196.95 483.2L197.2 482.98L197.45 482.7L197.7 482.34L197.95 481.9L198.2 481.39L198.45 480.83L198.7 480.23L198.95 479.63L199.2 479.09L199.45 478.69L199.7 478.79L199.95 479.14L200.2 479.52L200.45 479.85L200.7 480.07L200.95 480.14L201.2 480.02L201.45 479.67L201.7 479.05L201.95 478.1L202.2 476.74L202.45 474.94L202.7 473.03L202.95 470.38L203.2 466.54L203.45 461.45L203.7 455.36L203.95 448.83L204.2 442.7L204.45 437.9L204.7 435.29L204.95 435.41L205.2 437.35L205.45 440.53L205.7 444.79L205.95 449.91L206.2 455.61L206.45 461.6L206.7 467.57L206.95 473.29L207.2 478.55L207.45 483.22L207.7 487.23L207.95 490.56L208.2 493.24L208.45 495.33L208.7 496.92L208.95 498.09L209.2 498.93L209.45 499.51L209.7 499.91L209.95 500.17L210.2 500.34L210.45 500.45L210.7 500.51L210.95 500.55L211.2 500.57L211.45 500.58L211.7 500.59L211.95 500.6L212.2 500.6L212.45 500.6L212.7 500.6L212.95 500.6L213.2 500.6L213.45 500.6L213.7 500.6L213.95 500.6L214.2 500.6L214.45 500.6L214.7 500.6L214.95 500.6L215.2 500.6L215.45 500.6L215.7 500.6L215.95 500.6L216.2 500.6L216.45 500.6L216.7 500.6L216.95 500.6L217.2 500.6L217.45 500.6L217.7 500.6L217.95 500.6L218.2 500.6L218.45 500.6L218.7 500.6L218.95 500.6L219.2 500.6L219.45 500.6L219.7 500.6L219.95 500.6L220.2 500.6L220.45 500.6L220.7 500.6L220.95 500.6L221.2 500.6L221.45 500.6L221.7 500.6L221.95 500.6L222.2 500.6L222.45 500.6" fill="none" stroke="#000" stroke-width="1.55" stroke-linejoin="round"/>
<line x1="149.2" y1="500.8" x2="149.2" y2="502.4" stroke="#000" stroke-width="0.6" stroke-linecap="butt"/>
<line x1="151.31" y1="500.8" x2="151.31" y2="502.4" stroke="#000" stroke-width="0.6" stroke-linecap="butt"/>
<line x1="153.42" y1="500.8" x2="153.42" y2="502.4" stroke="#000" stroke-width="0.6" stroke-linecap="butt"/>
<line x1="155.53" y1="500.8" x2="155.53" y2="502.4" stroke="#000" stroke-width="0.6" stroke-linecap="butt"/>
<line x1="157.64" y1="500.8" x2="157.64" y2="502.4" stroke="#000" stroke-width="0.6" stroke-linecap="butt"/>
<line x1="159.75" y1="500.8" x2="159.75" y2="502.4" stroke="#000" stroke-width="0.6" stroke-linecap="butt"/>
<line x1="161.86" y1="500.8" x2="161.86" y2="502.4" stroke="#000" stroke-width="0.6" stroke-linecap="butt"/>
<line x1="163.97" y1="500.8" x2="163.97" y2="502.4" stroke="#000" stroke-width="0.6" stroke-linecap="butt"/>
<line x1="166.08" y1="500.8" x2="166.08" y2="502.4" stroke="#000" stroke-width="0.6" stroke-linecap="butt"/>
<line x1="168.19" y1="500.8" x2="168.19" y2="502.4" stroke="#000" stroke-width="0.6" stroke-linecap="butt"/>
<line x1="170.3" y1="500.8" x2="170.3" y2="503.8" stroke="#000" stroke-width="0.9" stroke-linecap="butt"/>
<line x1="175.63" y1="500.8" x2="175.63" y2="502.5" stroke="#000" stroke-width="0.65" stroke-linecap="butt"/>
<line x1="178.75" y1="500.8" x2="178.75" y2="502.5" stroke="#000" stroke-width="0.65" stroke-linecap="butt"/>
<line x1="180.96" y1="500.8" x2="180.96" y2="502.5" stroke="#000" stroke-width="0.65" stroke-linecap="butt"/>
<line x1="182.67" y1="500.8" x2="182.67" y2="502.5" stroke="#000" stroke-width="0.65" stroke-linecap="butt"/>
<line x1="184.07" y1="500.8" x2="184.07" y2="502.5" stroke="#000" stroke-width="0.65" stroke-linecap="butt"/>
<line x1="185.26" y1="500.8" x2="185.26" y2="502.5" stroke="#000" stroke-width="0.65" stroke-linecap="butt"/>
<line x1="186.28" y1="500.8" x2="186.28" y2="502.5" stroke="#000" stroke-width="0.65" stroke-linecap="butt"/>
<line x1="187.19" y1="500.8" x2="187.19" y2="502.5" stroke="#000" stroke-width="0.65" stroke-linecap="butt"/>
<line x1="188" y1="500.8" x2="188" y2="503.8" stroke="#000" stroke-width="0.9" stroke-linecap="butt"/>
<line x1="192.52" y1="500.8" x2="192.52" y2="502.5" stroke="#000" stroke-width="0.65" stroke-linecap="butt"/>
<line x1="195.16" y1="500.8" x2="195.16" y2="502.5" stroke="#000" stroke-width="0.65" stroke-linecap="butt"/>
<line x1="197.03" y1="500.8" x2="197.03" y2="502.5" stroke="#000" stroke-width="0.65" stroke-linecap="butt"/>
<line x1="198.48" y1="500.8" x2="198.48" y2="502.5" stroke="#000" stroke-width="0.65" stroke-linecap="butt"/>
<line x1="199.67" y1="500.8" x2="199.67" y2="502.5" stroke="#000" stroke-width="0.65" stroke-linecap="butt"/>
<line x1="200.68" y1="500.8" x2="200.68" y2="502.5" stroke="#000" stroke-width="0.65" stroke-linecap="butt"/>
<line x1="201.55" y1="500.8" x2="201.55" y2="502.5" stroke="#000" stroke-width="0.65" stroke-linecap="butt"/>
<line x1="202.31" y1="500.8" x2="202.31" y2="502.5" stroke="#000" stroke-width="0.65" stroke-linecap="butt"/>
<line x1="203" y1="500.8" x2="203" y2="503.8" stroke="#000" stroke-width="0.9" stroke-linecap="butt"/>
<line x1="207.82" y1="500.8" x2="207.82" y2="502.5" stroke="#000" stroke-width="0.65" stroke-linecap="butt"/>
<line x1="210.63" y1="500.8" x2="210.63" y2="502.5" stroke="#000" stroke-width="0.65" stroke-linecap="butt"/>
<line x1="212.63" y1="500.8" x2="212.63" y2="502.5" stroke="#000" stroke-width="0.65" stroke-linecap="butt"/>
<line x1="214.18" y1="500.8" x2="214.18" y2="502.5" stroke="#000" stroke-width="0.65" stroke-linecap="butt"/>
<line x1="215.45" y1="500.8" x2="215.45" y2="502.5" stroke="#000" stroke-width="0.65" stroke-linecap="butt"/>
<line x1="216.52" y1="500.8" x2="216.52" y2="502.5" stroke="#000" stroke-width="0.65" stroke-linecap="butt"/>
<line x1="217.45" y1="500.8" x2="217.45" y2="502.5" stroke="#000" stroke-width="0.65" stroke-linecap="butt"/>
<line x1="218.27" y1="500.8" x2="218.27" y2="502.5" stroke="#000" stroke-width="0.65" stroke-linecap="butt"/>
<line x1="219" y1="500.8" x2="219" y2="503.8" stroke="#000" stroke-width="0.9" stroke-linecap="butt"/>
<text font-size="8.3" text-anchor="middle" font-weight="normal" fill="#1a1a1a" transform="translate(156.1 513.5) scale(0.92 1)">0</text>
<text font-size="8.3" text-anchor="middle" font-weight="normal" fill="#1a1a1a" transform="translate(169.9 513.5) scale(0.92 1)">10<tspan font-size="4.8" dy="-3.2">3</tspan></text>
<text font-size="8.3" text-anchor="middle" font-weight="normal" fill="#1a1a1a" transform="translate(187.5 513.5) scale(0.92 1)">10<tspan font-size="4.8" dy="-3.2">4</tspan></text>
<text font-size="8.3" text-anchor="middle" font-weight="normal" fill="#1a1a1a" transform="translate(202.6 513.5) scale(0.92 1)">10<tspan font-size="4.8" dy="-3.2">5</tspan></text>
<text font-size="8.3" text-anchor="middle" font-weight="normal" fill="#1a1a1a" transform="translate(218.5 513.5) scale(0.92 1)">10<tspan font-size="4.8" dy="-3.2">6</tspan></text>
<line x1="30.4" y1="396.8" x2="30.4" y2="328.3" stroke="#000" stroke-width="1.4" stroke-linecap="butt"/>
<path d="M30.4 325.8L32.3 329.8L28.5 329.8Z" fill="#000"/>
<line x1="30.1" y1="517.4" x2="30.1" y2="438.9" stroke="#000" stroke-width="1.4" stroke-linecap="butt"/>
<path d="M30.1 436.4L32 440.4L28.2 440.4Z" fill="#000"/>
<line x1="30.1" y1="517.4" x2="223.5" y2="517.4" stroke="#000" stroke-width="1.4" stroke-linecap="butt"/>
<path d="M227.6 517.4L223.3 515.5L223.3 519.3Z" fill="#000"/>
<text font-size="9.5" text-anchor="middle" font-weight="normal" fill="#1a1a1a" textLength="51.3" lengthAdjust="spacingAndGlyphs" transform="translate(24.5 359) rotate(-90)">Counts (before)</text>
<text font-size="9.5" text-anchor="middle" font-weight="normal" fill="#1a1a1a" textLength="44.9" lengthAdjust="spacingAndGlyphs" transform="translate(23.6 476.8) rotate(-90)">Counts (after)</text>
<text font-size="10" text-anchor="middle" font-weight="normal" fill="#1a1a1a" textLength="16.3" lengthAdjust="spacingAndGlyphs" transform="translate(118.95 530.8)">CFSE</text>
<text font-size="11.6" text-anchor="start" font-weight="bold" fill="#000" transform="translate(259.5 316.75)" stroke="#000" stroke-width="0.25">G</text>
<line x1="301.3" y1="317.5" x2="301.3" y2="395.7" stroke="#000" stroke-width="1.45" stroke-linecap="butt"/>
<line x1="297.6" y1="395" x2="301.3" y2="395" stroke="#000" stroke-width="1.3" stroke-linecap="butt"/>
<text font-size="8.8" text-anchor="end" font-weight="normal" fill="#1a1a1a" transform="translate(295 397.95) scale(0.92 1)">0.0</text>
<line x1="297.6" y1="379.64" x2="301.3" y2="379.64" stroke="#000" stroke-width="1.3" stroke-linecap="butt"/>
<text font-size="8.8" text-anchor="end" font-weight="normal" fill="#1a1a1a" transform="translate(295 382.59) scale(0.92 1)">0.2</text>
<line x1="297.6" y1="364.28" x2="301.3" y2="364.28" stroke="#000" stroke-width="1.3" stroke-linecap="butt"/>
<text font-size="8.8" text-anchor="end" font-weight="normal" fill="#1a1a1a" transform="translate(295 367.23) scale(0.92 1)">0.4</text>
<line x1="297.6" y1="348.92" x2="301.3" y2="348.92" stroke="#000" stroke-width="1.3" stroke-linecap="butt"/>
<text font-size="8.8" text-anchor="end" font-weight="normal" fill="#1a1a1a" transform="translate(295 351.87) scale(0.92 1)">0.6</text>
<line x1="297.6" y1="333.56" x2="301.3" y2="333.56" stroke="#000" stroke-width="1.3" stroke-linecap="butt"/>
<text font-size="8.8" text-anchor="end" font-weight="normal" fill="#1a1a1a" transform="translate(295 336.51) scale(0.92 1)">0.8</text>
<line x1="297.6" y1="318.2" x2="301.3" y2="318.2" stroke="#000" stroke-width="1.3" stroke-linecap="butt"/>
<text font-size="8.8" text-anchor="end" font-weight="normal" fill="#1a1a1a" transform="translate(295 321.15) scale(0.92 1)">1.0</text>
<line x1="301.3" y1="395" x2="383.6" y2="395" stroke="#000" stroke-width="1.45" stroke-linecap="butt"/>
<line x1="322.2" y1="395" x2="322.2" y2="398.3" stroke="#000" stroke-width="1.1" stroke-linecap="butt"/>
<text font-size="9" text-anchor="middle" font-weight="normal" fill="#1a1a1a" transform="translate(322.2 410.4) scale(0.88 1)">Teff</text>
<line x1="363.6" y1="395" x2="363.6" y2="398.3" stroke="#000" stroke-width="1.1" stroke-linecap="butt"/>
<text font-size="9" text-anchor="middle" font-weight="normal" fill="#1a1a1a" transform="translate(363.6 410.4) scale(0.905 1)">Teff + Treg</text>
<text font-size="10" text-anchor="middle" font-weight="normal" fill="#1a1a1a" textLength="46.5" lengthAdjust="spacingAndGlyphs" transform="translate(263.6 362.2) rotate(-90)">Division index</text>
<text font-size="10" text-anchor="middle" font-weight="normal" fill="#1a1a1a" textLength="26.8" lengthAdjust="spacingAndGlyphs" transform="translate(275.4 361.7) rotate(-90)">(before)</text>
<line x1="321.9" y1="325.4" x2="363.5" y2="329.2" stroke="#000" stroke-width="1.35" stroke-linecap="round"/>
<line x1="321.9" y1="330.3" x2="363.5" y2="331.1" stroke="#000" stroke-width="1.35" stroke-linecap="round"/>
<line x1="321.9" y1="335.9" x2="363.5" y2="341.1" stroke="#000" stroke-width="1.35" stroke-linecap="round"/>
<line x1="321.9" y1="341.6" x2="363.5" y2="341.1" stroke="#000" stroke-width="1.35" stroke-linecap="round"/>
<line x1="321.9" y1="341.6" x2="363.5" y2="362.5" stroke="#000" stroke-width="1.35" stroke-linecap="round"/>
<line x1="321.9" y1="355.3" x2="363.5" y2="362.5" stroke="#000" stroke-width="1.35" stroke-linecap="round"/>
<line x1="321.9" y1="358.2" x2="363.5" y2="363.5" stroke="#000" stroke-width="1.35" stroke-linecap="round"/>
<line x1="321.9" y1="360.6" x2="363.5" y2="363.9" stroke="#000" stroke-width="1.35" stroke-linecap="round"/>
<line x1="321.9" y1="362" x2="363.5" y2="384.1" stroke="#000" stroke-width="1.35" stroke-linecap="round"/>
<line x1="321.9" y1="368.3" x2="363.5" y2="369.2" stroke="#000" stroke-width="1.35" stroke-linecap="round"/>
<line x1="321.9" y1="369.7" x2="363.5" y2="373.6" stroke="#000" stroke-width="1.35" stroke-linecap="round"/>
<line x1="321.9" y1="371.2" x2="363.5" y2="375.5" stroke="#000" stroke-width="1.35" stroke-linecap="round"/>
<line x1="321.9" y1="372" x2="363.5" y2="385.6" stroke="#000" stroke-width="1.35" stroke-linecap="round"/>
<line x1="321.9" y1="373.1" x2="363.5" y2="387" stroke="#000" stroke-width="1.35" stroke-linecap="round"/>
<line x1="321.9" y1="380.3" x2="363.5" y2="389.9" stroke="#000" stroke-width="1.35" stroke-linecap="round"/>
<circle cx="321.9" cy="325.4" r="1.55" fill="#cc0a2a"/>
<circle cx="363.5" cy="329.2" r="1.55" fill="#cc0a2a"/>
<circle cx="321.9" cy="330.3" r="1.55" fill="#cc0a2a"/>
<circle cx="363.5" cy="331.1" r="1.55" fill="#cc0a2a"/>
<circle cx="321.9" cy="335.9" r="1.55" fill="#cc0a2a"/>
<circle cx="363.5" cy="341.1" r="1.55" fill="#cc0a2a"/>
<circle cx="321.9" cy="341.6" r="1.55" fill="#cc0a2a"/>
<circle cx="363.5" cy="341.1" r="1.55" fill="#cc0a2a"/>
<circle cx="321.9" cy="341.6" r="1.55" fill="#cc0a2a"/>
<circle cx="363.5" cy="362.5" r="1.55" fill="#cc0a2a"/>
<circle cx="321.9" cy="355.3" r="1.55" fill="#cc0a2a"/>
<circle cx="363.5" cy="362.5" r="1.55" fill="#cc0a2a"/>
<circle cx="321.9" cy="358.2" r="1.55" fill="#cc0a2a"/>
<circle cx="363.5" cy="363.5" r="1.55" fill="#cc0a2a"/>
<circle cx="321.9" cy="360.6" r="1.55" fill="#cc0a2a"/>
<circle cx="363.5" cy="363.9" r="1.55" fill="#cc0a2a"/>
<circle cx="321.9" cy="362" r="1.55" fill="#cc0a2a"/>
<circle cx="363.5" cy="384.1" r="1.55" fill="#cc0a2a"/>
<circle cx="321.9" cy="368.3" r="1.55" fill="#cc0a2a"/>
<circle cx="363.5" cy="369.2" r="1.55" fill="#cc0a2a"/>
<circle cx="321.9" cy="369.7" r="1.55" fill="#cc0a2a"/>
<circle cx="363.5" cy="373.6" r="1.55" fill="#cc0a2a"/>
<circle cx="321.9" cy="371.2" r="1.55" fill="#cc0a2a"/>
<circle cx="363.5" cy="375.5" r="1.55" fill="#cc0a2a"/>
<circle cx="321.9" cy="372" r="1.55" fill="#cc0a2a"/>
<circle cx="363.5" cy="385.6" r="1.55" fill="#cc0a2a"/>
<circle cx="321.9" cy="373.1" r="1.55" fill="#cc0a2a"/>
<circle cx="363.5" cy="387" r="1.55" fill="#cc0a2a"/>
<circle cx="321.9" cy="380.3" r="1.55" fill="#cc0a2a"/>
<circle cx="363.5" cy="389.9" r="1.55" fill="#cc0a2a"/>
<line x1="321.9" y1="316.4" x2="363.5" y2="316.4" stroke="#000" stroke-width="1.45" stroke-linecap="butt"/>
<path d="M340.75 310L341.31 311.13L342.56 311.31L341.65 312.19L341.87 313.44L340.75 312.85L339.63 313.44L339.85 312.19L338.94 311.31L340.19 311.13Z" fill="#111"/>
<path d="M344.35 310L344.91 311.13L346.16 311.31L345.25 312.19L345.47 313.44L344.35 312.85L343.23 313.44L343.45 312.19L342.54 311.31L343.79 311.13Z" fill="#111"/>
<text font-size="11.6" text-anchor="start" font-weight="bold" fill="#000" transform="translate(259.8 431.75)" stroke="#000" stroke-width="0.25">H</text>
<line x1="301.4" y1="432.62" x2="301.4" y2="510.5" stroke="#000" stroke-width="1.45" stroke-linecap="butt"/>
<line x1="297.7" y1="509.8" x2="301.4" y2="509.8" stroke="#000" stroke-width="1.3" stroke-linecap="butt"/>
<text font-size="8.8" text-anchor="end" font-weight="normal" fill="#1a1a1a" transform="translate(295.1 512.75) scale(0.92 1)">0.0</text>
<line x1="297.7" y1="490.68" x2="301.4" y2="490.68" stroke="#000" stroke-width="1.3" stroke-linecap="butt"/>
<text font-size="8.8" text-anchor="end" font-weight="normal" fill="#1a1a1a" transform="translate(295.1 493.63) scale(0.92 1)">0.2</text>
<line x1="297.7" y1="471.56" x2="301.4" y2="471.56" stroke="#000" stroke-width="1.3" stroke-linecap="butt"/>
<text font-size="8.8" text-anchor="end" font-weight="normal" fill="#1a1a1a" transform="translate(295.1 474.51) scale(0.92 1)">0.4</text>
<line x1="297.7" y1="452.44" x2="301.4" y2="452.44" stroke="#000" stroke-width="1.3" stroke-linecap="butt"/>
<text font-size="8.8" text-anchor="end" font-weight="normal" fill="#1a1a1a" transform="translate(295.1 455.39) scale(0.92 1)">0.6</text>
<line x1="297.7" y1="433.32" x2="301.4" y2="433.32" stroke="#000" stroke-width="1.3" stroke-linecap="butt"/>
<text font-size="8.8" text-anchor="end" font-weight="normal" fill="#1a1a1a" transform="translate(295.1 436.27) scale(0.92 1)">0.8</text>
<line x1="301.4" y1="509.8" x2="384.6" y2="509.8" stroke="#000" stroke-width="1.45" stroke-linecap="butt"/>
<line x1="322.7" y1="509.8" x2="322.7" y2="513.1" stroke="#000" stroke-width="1.1" stroke-linecap="butt"/>
<text font-size="9" text-anchor="middle" font-weight="normal" fill="#1a1a1a" transform="translate(322.7 525) scale(0.88 1)">Teff</text>
<line x1="363.5" y1="509.8" x2="363.5" y2="513.1" stroke="#000" stroke-width="1.1" stroke-linecap="butt"/>
<text font-size="9" text-anchor="middle" font-weight="normal" fill="#1a1a1a" transform="translate(363.5 525) scale(0.905 1)">Teff + Treg</text>
<text font-size="10" text-anchor="middle" font-weight="normal" fill="#1a1a1a" textLength="46.6" lengthAdjust="spacingAndGlyphs" transform="translate(263.8 476.8) rotate(-90)">Division index</text>
<text font-size="10" text-anchor="middle" font-weight="normal" fill="#1a1a1a" textLength="19.5" lengthAdjust="spacingAndGlyphs" transform="translate(276.2 477.2) rotate(-90)">(after)</text>
<line x1="322.5" y1="448.6" x2="363.6" y2="477.7" stroke="#000" stroke-width="1.35" stroke-linecap="round"/>
<line x1="322.5" y1="453.7" x2="363.6" y2="492.8" stroke="#000" stroke-width="1.35" stroke-linecap="round"/>
<line x1="322.5" y1="455.9" x2="363.6" y2="498.3" stroke="#000" stroke-width="1.35" stroke-linecap="round"/>
<line x1="322.5" y1="458.3" x2="363.6" y2="502.9" stroke="#000" stroke-width="1.35" stroke-linecap="round"/>
<line x1="322.5" y1="460.7" x2="363.6" y2="504.9" stroke="#000" stroke-width="1.35" stroke-linecap="round"/>
<line x1="322.5" y1="469.8" x2="363.6" y2="506.5" stroke="#000" stroke-width="1.35" stroke-linecap="round"/>
<line x1="322.5" y1="472.2" x2="363.6" y2="479.5" stroke="#000" stroke-width="1.35" stroke-linecap="round"/>
<line x1="322.5" y1="475.3" x2="363.6" y2="477.1" stroke="#000" stroke-width="1.35" stroke-linecap="round"/>
<line x1="322.5" y1="477.4" x2="363.6" y2="484" stroke="#000" stroke-width="1.35" stroke-linecap="round"/>
<line x1="322.5" y1="480.1" x2="363.6" y2="488.6" stroke="#000" stroke-width="1.35" stroke-linecap="round"/>
<line x1="322.5" y1="483.7" x2="363.6" y2="500.7" stroke="#000" stroke-width="1.35" stroke-linecap="round"/>
<line x1="322.5" y1="486.2" x2="363.6" y2="504.9" stroke="#000" stroke-width="1.35" stroke-linecap="round"/>
<line x1="322.5" y1="491.6" x2="363.6" y2="502.9" stroke="#000" stroke-width="1.35" stroke-linecap="round"/>
<line x1="322.5" y1="494" x2="363.6" y2="506.5" stroke="#000" stroke-width="1.35" stroke-linecap="round"/>
<circle cx="322.5" cy="448.6" r="1.55" fill="#cc0a2a"/>
<circle cx="363.6" cy="477.7" r="1.55" fill="#cc0a2a"/>
<circle cx="322.5" cy="453.7" r="1.55" fill="#cc0a2a"/>
<circle cx="363.6" cy="492.8" r="1.55" fill="#cc0a2a"/>
<circle cx="322.5" cy="455.9" r="1.55" fill="#cc0a2a"/>
<circle cx="363.6" cy="498.3" r="1.55" fill="#cc0a2a"/>
<circle cx="322.5" cy="458.3" r="1.55" fill="#cc0a2a"/>
<circle cx="363.6" cy="502.9" r="1.55" fill="#cc0a2a"/>
<circle cx="322.5" cy="460.7" r="1.55" fill="#cc0a2a"/>
<circle cx="363.6" cy="504.9" r="1.55" fill="#cc0a2a"/>
<circle cx="322.5" cy="469.8" r="1.55" fill="#cc0a2a"/>
<circle cx="363.6" cy="506.5" r="1.55" fill="#cc0a2a"/>
<circle cx="322.5" cy="472.2" r="1.55" fill="#cc0a2a"/>
<circle cx="363.6" cy="479.5" r="1.55" fill="#cc0a2a"/>
<circle cx="322.5" cy="475.3" r="1.55" fill="#cc0a2a"/>
<circle cx="363.6" cy="477.1" r="1.55" fill="#cc0a2a"/>
<circle cx="322.5" cy="477.4" r="1.55" fill="#cc0a2a"/>
<circle cx="363.6" cy="484" r="1.55" fill="#cc0a2a"/>
<circle cx="322.5" cy="480.1" r="1.55" fill="#cc0a2a"/>
<circle cx="363.6" cy="488.6" r="1.55" fill="#cc0a2a"/>
<circle cx="322.5" cy="483.7" r="1.55" fill="#cc0a2a"/>
<circle cx="363.6" cy="500.7" r="1.55" fill="#cc0a2a"/>
<circle cx="322.5" cy="486.2" r="1.55" fill="#cc0a2a"/>
<circle cx="363.6" cy="504.9" r="1.55" fill="#cc0a2a"/>
<circle cx="322.5" cy="491.6" r="1.55" fill="#cc0a2a"/>
<circle cx="363.6" cy="502.9" r="1.55" fill="#cc0a2a"/>
<circle cx="322.5" cy="494" r="1.55" fill="#cc0a2a"/>
<circle cx="363.6" cy="506.5" r="1.55" fill="#cc0a2a"/>
<line x1="322.2" y1="434.2" x2="363.6" y2="434.2" stroke="#000" stroke-width="1.45" stroke-linecap="butt"/>
<path d="M338.1 428.1L338.66 429.23L339.91 429.41L339 430.29L339.22 431.54L338.1 430.95L336.98 431.54L337.2 430.29L336.29 429.41L337.54 429.23Z" fill="#111"/>
<path d="M341.6 428.1L342.16 429.23L343.41 429.41L342.5 430.29L342.72 431.54L341.6 430.95L340.48 431.54L340.7 430.29L339.79 429.41L341.04 429.23Z" fill="#111"/>
<path d="M345.1 428.1L345.66 429.23L346.91 429.41L346 430.29L346.22 431.54L345.1 430.95L343.98 431.54L344.2 430.29L343.29 429.41L344.54 429.23Z" fill="#111"/>
<path d="M348.6 428.1L349.16 429.23L350.41 429.41L349.5 430.29L349.72 431.54L348.6 430.95L347.48 431.54L347.7 430.29L346.79 429.41L348.04 429.23Z" fill="#111"/>
<text font-size="11.6" text-anchor="start" font-weight="bold" fill="#000" transform="translate(397.1 364.05)" stroke="#000" stroke-width="0.25">I</text>
<line x1="431" y1="372.2" x2="431" y2="450.28" stroke="#000" stroke-width="1.45" stroke-linecap="butt"/>
<line x1="427.3" y1="449.58" x2="431" y2="449.58" stroke="#000" stroke-width="1.3" stroke-linecap="butt"/>
<text font-size="8.8" text-anchor="end" font-weight="normal" fill="#1a1a1a" transform="translate(424.7 452.53) scale(0.92 1)">&#8722;20</text>
<line x1="427.3" y1="436.8" x2="431" y2="436.8" stroke="#000" stroke-width="1.3" stroke-linecap="butt"/>
<text font-size="8.8" text-anchor="end" font-weight="normal" fill="#1a1a1a" transform="translate(424.7 439.75) scale(0.92 1)">0</text>
<line x1="427.3" y1="424.02" x2="431" y2="424.02" stroke="#000" stroke-width="1.3" stroke-linecap="butt"/>
<text font-size="8.8" text-anchor="end" font-weight="normal" fill="#1a1a1a" transform="translate(424.7 426.97) scale(0.92 1)">20</text>
<line x1="427.3" y1="411.24" x2="431" y2="411.24" stroke="#000" stroke-width="1.3" stroke-linecap="butt"/>
<text font-size="8.8" text-anchor="end" font-weight="normal" fill="#1a1a1a" transform="translate(424.7 414.19) scale(0.92 1)">40</text>
<line x1="427.3" y1="398.46" x2="431" y2="398.46" stroke="#000" stroke-width="1.3" stroke-linecap="butt"/>
<text font-size="8.8" text-anchor="end" font-weight="normal" fill="#1a1a1a" transform="translate(424.7 401.41) scale(0.92 1)">60</text>
<line x1="427.3" y1="385.68" x2="431" y2="385.68" stroke="#000" stroke-width="1.3" stroke-linecap="butt"/>
<text font-size="8.8" text-anchor="end" font-weight="normal" fill="#1a1a1a" transform="translate(424.7 388.63) scale(0.92 1)">80</text>
<line x1="427.3" y1="372.9" x2="431" y2="372.9" stroke="#000" stroke-width="1.3" stroke-linecap="butt"/>
<text font-size="8.8" text-anchor="end" font-weight="normal" fill="#1a1a1a" transform="translate(424.7 375.85) scale(0.92 1)">100</text>
<line x1="431" y1="449.8" x2="512.2" y2="449.8" stroke="#000" stroke-width="1.45" stroke-linecap="butt"/>
<line x1="450.8" y1="449.8" x2="450.8" y2="453.1" stroke="#000" stroke-width="1.1" stroke-linecap="butt"/>
<text font-size="9" text-anchor="middle" font-weight="normal" fill="#1a1a1a" transform="translate(450.8 465.3) scale(0.88 1)">Before</text>
<line x1="492.3" y1="449.8" x2="492.3" y2="453.1" stroke="#000" stroke-width="1.1" stroke-linecap="butt"/>
<text font-size="9" text-anchor="middle" font-weight="normal" fill="#1a1a1a" transform="translate(492.3 465.3) scale(0.93 1)">After</text>
<text font-size="10" text-anchor="middle" font-weight="normal" fill="#1a1a1a" textLength="54.2" lengthAdjust="spacingAndGlyphs" transform="translate(403.1 408) rotate(-90)">Suppression (%)</text>
<line x1="450.7" y1="392.5" x2="491.8" y2="379.9" stroke="#000" stroke-width="1.35" stroke-linecap="round"/>
<line x1="450.7" y1="394.8" x2="491.8" y2="385.1" stroke="#000" stroke-width="1.35" stroke-linecap="round"/>
<line x1="450.7" y1="396.6" x2="491.8" y2="416.4" stroke="#000" stroke-width="1.35" stroke-linecap="round"/>
<line x1="450.7" y1="398.9" x2="491.8" y2="430.5" stroke="#000" stroke-width="1.35" stroke-linecap="round"/>
<line x1="450.7" y1="411.4" x2="491.8" y2="400.4" stroke="#000" stroke-width="1.35" stroke-linecap="round"/>
<line x1="450.7" y1="422.3" x2="491.8" y2="377.7" stroke="#000" stroke-width="1.35" stroke-linecap="round"/>
<line x1="450.7" y1="424.3" x2="491.8" y2="388.8" stroke="#000" stroke-width="1.35" stroke-linecap="round"/>
<line x1="450.7" y1="426" x2="491.8" y2="391.8" stroke="#000" stroke-width="1.35" stroke-linecap="round"/>
<line x1="450.7" y1="428.3" x2="491.8" y2="404" stroke="#000" stroke-width="1.35" stroke-linecap="round"/>
<line x1="450.7" y1="430.5" x2="491.8" y2="387" stroke="#000" stroke-width="1.35" stroke-linecap="round"/>
<line x1="450.7" y1="432.7" x2="491.8" y2="400.4" stroke="#000" stroke-width="1.35" stroke-linecap="round"/>
<line x1="450.7" y1="435" x2="491.8" y2="385.1" stroke="#000" stroke-width="1.35" stroke-linecap="round"/>
<line x1="450.7" y1="436.8" x2="491.8" y2="434.2" stroke="#000" stroke-width="1.35" stroke-linecap="round"/>
<line x1="450.7" y1="438.7" x2="491.8" y2="404" stroke="#000" stroke-width="1.35" stroke-linecap="round"/>
<circle cx="450.7" cy="392.5" r="1.55" fill="#cc0a2a"/>
<circle cx="491.8" cy="379.9" r="1.55" fill="#cc0a2a"/>
<circle cx="450.7" cy="394.8" r="1.55" fill="#cc0a2a"/>
<circle cx="491.8" cy="385.1" r="1.55" fill="#cc0a2a"/>
<circle cx="450.7" cy="396.6" r="1.55" fill="#cc0a2a"/>
<circle cx="491.8" cy="416.4" r="1.55" fill="#cc0a2a"/>
<circle cx="450.7" cy="398.9" r="1.55" fill="#cc0a2a"/>
<circle cx="491.8" cy="430.5" r="1.55" fill="#cc0a2a"/>
<circle cx="450.7" cy="411.4" r="1.55" fill="#cc0a2a"/>
<circle cx="491.8" cy="400.4" r="1.55" fill="#cc0a2a"/>
<circle cx="450.7" cy="422.3" r="1.55" fill="#cc0a2a"/>
<circle cx="491.8" cy="377.7" r="1.55" fill="#cc0a2a"/>
<circle cx="450.7" cy="424.3" r="1.55" fill="#cc0a2a"/>
<circle cx="491.8" cy="388.8" r="1.55" fill="#cc0a2a"/>
<circle cx="450.7" cy="426" r="1.55" fill="#cc0a2a"/>
<circle cx="491.8" cy="391.8" r="1.55" fill="#cc0a2a"/>
<circle cx="450.7" cy="428.3" r="1.55" fill="#cc0a2a"/>
<circle cx="491.8" cy="404" r="1.55" fill="#cc0a2a"/>
<circle cx="450.7" cy="430.5" r="1.55" fill="#cc0a2a"/>
<circle cx="491.8" cy="387" r="1.55" fill="#cc0a2a"/>
<circle cx="450.7" cy="432.7" r="1.55" fill="#cc0a2a"/>
<circle cx="491.8" cy="400.4" r="1.55" fill="#cc0a2a"/>
<circle cx="450.7" cy="435" r="1.55" fill="#cc0a2a"/>
<circle cx="491.8" cy="385.1" r="1.55" fill="#cc0a2a"/>
<circle cx="450.7" cy="436.8" r="1.55" fill="#cc0a2a"/>
<circle cx="491.8" cy="434.2" r="1.55" fill="#cc0a2a"/>
<circle cx="450.7" cy="438.7" r="1.55" fill="#cc0a2a"/>
<circle cx="491.8" cy="404" r="1.55" fill="#cc0a2a"/>
<line x1="450.7" y1="367.1" x2="491.8" y2="367.1" stroke="#000" stroke-width="1.45" stroke-linecap="butt"/>
<path d="M471.4 360.9L471.96 362.03L473.21 362.21L472.3 363.09L472.52 364.34L471.4 363.75L470.28 364.34L470.5 363.09L469.59 362.21L470.84 362.03Z" fill="#111"/>
</svg></div></body></html>
